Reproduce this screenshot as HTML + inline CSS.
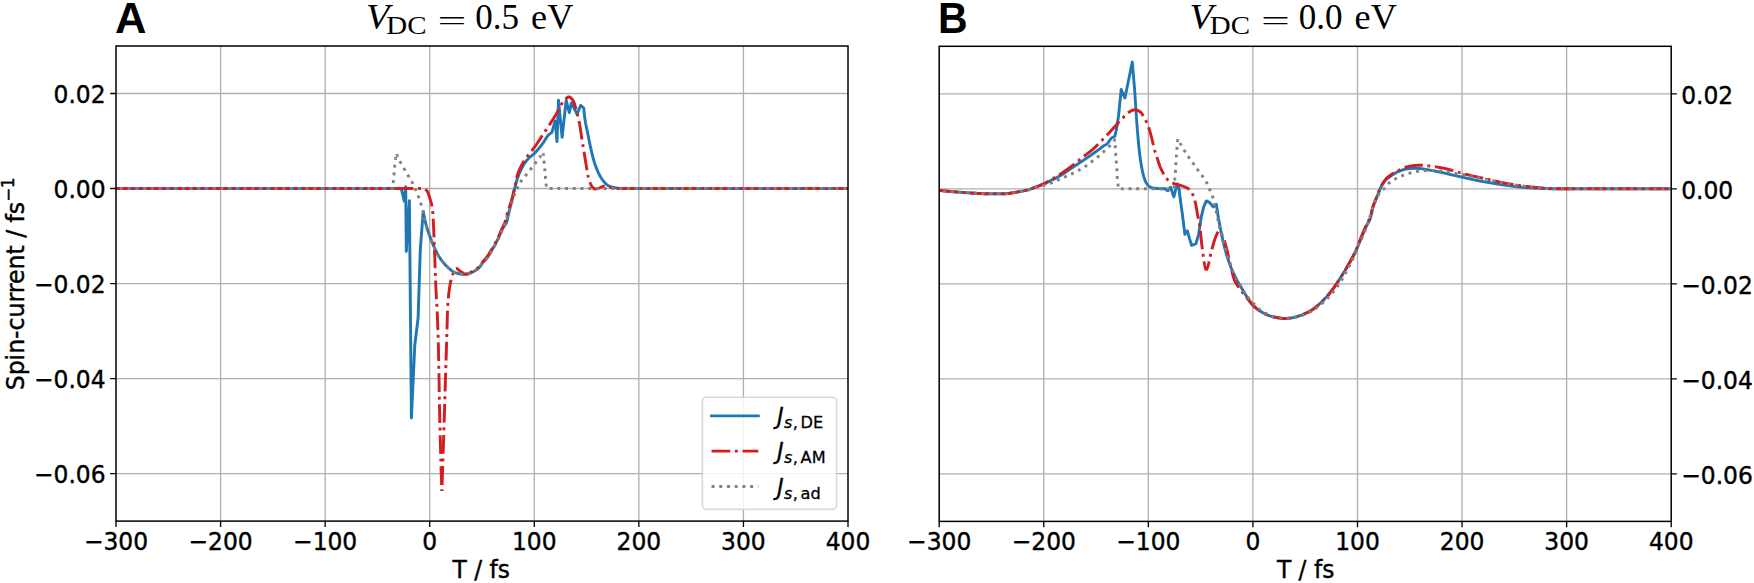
<!DOCTYPE html>
<html lang="en"><head><meta charset="utf-8"><title>Spin-current</title>
<style>html,body{margin:0;padding:0;background:#fff}svg{display:block}.t{font-family:"DejaVu Sans","Liberation Sans",sans-serif;font-size:24.43px;fill:#000}.ti{font-family:"DejaVu Sans","Liberation Sans",sans-serif;font-style:oblique;font-size:24.43px;fill:#000}.s{font-family:"DejaVu Sans","Liberation Sans",sans-serif;font-size:17.1px;fill:#000}.si{font-family:"DejaVu Sans","Liberation Sans",sans-serif;font-style:oblique;font-size:17.1px;fill:#000}.m{font-family:"Liberation Serif","DejaVu Serif",serif;fill:#000}.b{font-family:"Liberation Sans","DejaVu Sans",sans-serif;font-weight:bold;font-size:43.6px;fill:#000}</style></head><body>
<svg width="1754" height="583" viewBox="0 0 1754 583">
<rect x="0" y="0" width="1754" height="583" fill="#fff"/>
<clipPath id="clipA"><rect x="116.0" y="46.0" width="732.00" height="475.10"/></clipPath>
<path d="M220.57,46.0V521.1M325.14,46.0V521.1M429.71,46.0V521.1M534.29,46.0V521.1M638.86,46.0V521.1M743.43,46.0V521.1M116.0,93.51H848.0M116.0,188.53H848.0M116.0,283.55H848.0M116.0,378.57H848.0M116.0,473.59H848.0" stroke="#b0b0b0" stroke-width="1.33" fill="none"/>
<g clip-path="url(#clipA)" fill="none" stroke-linejoin="round">
<path d="M116.00,188.50 L401.20,188.50 L402.80,195.00 L404.30,201.30 L405.70,186.60 L406.30,251.40 L409.40,200.60 L411.40,418.00 L414.80,345.00 L418.10,318.00 L420.30,250.00 L423.20,211.60 L423.70,214.12 L424.20,216.56 L424.70,218.91 L425.20,221.15 L425.70,223.27 L426.20,225.24 L426.60,226.70 L426.70,227.05 L427.20,228.74 L427.70,230.33 L428.20,231.85 L428.70,233.30 L429.20,234.69 L429.70,236.03 L430.20,237.34 L430.70,238.62 L431.20,239.89 L431.40,240.40 L431.70,241.16 L432.20,242.40 L432.70,243.62 L433.20,244.82 L433.70,245.98 L434.20,247.12 L434.70,248.24 L435.20,249.32 L435.70,250.37 L436.20,251.40 L436.70,252.40 L437.20,253.38 L437.70,254.32 L438.20,255.23 L438.70,256.09 L439.20,256.90 L439.70,257.67 L440.20,258.41 L440.70,259.13 L441.20,259.83 L441.70,260.51 L442.20,261.16 L442.70,261.79 L443.20,262.41 L443.70,263.01 L444.20,263.59 L444.30,263.70 L444.70,264.15 L445.20,264.70 L445.70,265.23 L446.20,265.74 L446.70,266.24 L447.20,266.72 L447.70,267.19 L448.20,267.65 L448.60,268.00 L448.70,268.09 L449.20,268.53 L449.70,268.98 L450.20,269.42 L450.70,269.86 L451.20,270.29 L451.70,270.69 L452.20,271.06 L452.70,271.40 L453.20,271.70 L453.70,271.96 L453.80,272.00 L454.20,272.17 L454.70,272.38 L455.20,272.58 L455.70,272.76 L456.20,272.94 L456.70,273.11 L457.20,273.27 L457.70,273.41 L458.20,273.55 L458.70,273.67 L459.20,273.78 L459.70,273.87 L460.20,273.95 L460.60,274.00 L460.70,274.01 L461.20,274.07 L461.70,274.13 L462.20,274.18 L462.70,274.23 L463.20,274.28 L463.70,274.32 L464.20,274.35 L464.70,274.38 L465.20,274.39 L465.70,274.40 L465.80,274.40 L466.20,274.39 L466.70,274.33 L467.20,274.24 L467.70,274.12 L468.20,273.97 L468.70,273.79 L469.20,273.60 L469.70,273.38 L470.20,273.16 L470.70,272.92 L471.20,272.68 L471.70,272.43 L472.20,272.19 L472.60,272.00 L472.70,271.95 L473.20,271.71 L473.70,271.45 L474.20,271.18 L474.70,270.90 L475.20,270.60 L475.70,270.28 L476.20,269.94 L476.70,269.59 L477.20,269.21 L477.70,268.81 L478.20,268.40 L478.70,267.96 L479.20,267.49 L479.50,267.20 L479.70,266.99 L480.20,266.36 L480.70,265.62 L481.20,264.84 L481.70,264.06 L482.20,263.33 L482.30,263.20 L482.70,262.69 L483.20,262.09 L483.70,261.51 L484.20,260.95 L484.70,260.40 L485.20,259.85 L485.70,259.29 L486.20,258.72 L486.70,258.11 L487.20,257.47 L487.40,257.20 L487.70,256.78 L488.20,256.05 L488.70,255.28 L489.20,254.48 L489.70,253.66 L490.20,252.82 L490.70,251.98 L491.20,251.14 L491.70,250.30 L492.20,249.47 L492.70,248.64 L493.20,247.80 L493.70,246.96 L494.20,246.09 L494.70,245.21 L495.20,244.30 L495.70,243.36 L496.20,242.40 L496.70,241.42 L497.20,240.42 L497.70,239.39 L498.20,238.35 L498.60,237.50 L498.70,237.28 L499.20,236.15 L499.70,234.96 L500.20,233.74 L500.70,232.53 L501.20,231.36 L501.70,230.29 L502.00,229.70 L502.20,229.33 L502.70,228.46 L503.20,227.65 L503.70,226.88 L504.20,226.12 L504.60,225.50 L504.70,225.35 L505.20,224.66 L505.70,223.97 L506.20,223.11 L506.30,222.90 L506.70,221.84 L507.20,220.05 L507.70,217.92 L508.20,215.65 L508.70,213.43 L508.90,212.60 L509.20,211.39 L509.70,209.37 L510.20,207.34 L510.70,205.29 L511.20,203.24 L511.50,202.00 L511.70,201.17 L512.20,199.06 L512.70,196.93 L513.20,194.80 L513.70,192.72 L514.00,191.50 L514.20,190.69 L514.70,188.63 L515.20,186.56 L515.70,184.53 L516.20,182.59 L516.70,180.80 L517.20,179.20 L517.70,177.75 L518.20,176.36 L518.70,175.03 L519.20,173.77 L519.70,172.56 L520.20,171.42 L520.70,170.33 L521.20,169.29 L521.70,168.31 L522.20,167.38 L522.30,167.20 L522.70,166.49 L523.20,165.63 L523.70,164.81 L524.20,164.01 L524.70,163.24 L525.20,162.50 L525.70,161.79 L526.20,161.11 L526.70,160.47 L527.20,159.85 L527.70,159.26 L528.20,158.71 L528.30,158.60 L528.70,158.19 L529.20,157.71 L529.70,157.26 L530.20,156.85 L530.70,156.45 L531.20,156.06 L531.70,155.68 L532.20,155.30 L532.70,154.91 L533.20,154.50 L533.70,154.06 L534.20,153.60 L534.30,153.50 L534.70,153.10 L535.20,152.59 L535.70,152.05 L536.20,151.51 L536.70,150.95 L537.20,150.37 L537.70,149.79 L538.20,149.19 L538.70,148.58 L539.20,147.96 L539.70,147.34 L540.20,146.70 L540.70,146.06 L541.20,145.42 L541.70,144.77 L542.20,144.12 L542.70,143.46 L542.90,143.20 L543.20,142.79 L543.70,142.07 L544.20,141.31 L544.70,140.51 L545.20,139.70 L545.70,138.89 L546.20,138.08 L546.70,137.31 L547.20,136.58 L547.70,135.90 L548.20,135.30 L548.70,134.78 L548.90,134.60 L549.20,134.35 L549.70,133.95 L550.20,133.58 L550.70,133.26 L551.20,132.98 L551.70,132.74 L551.80,132.70 L555.20,121.00 L557.00,141.50 L558.50,100.30 L562.10,137.30 L566.20,100.30 L569.30,112.60 L571.40,102.90 L577.00,114.20 L580.70,105.40 L583.70,108.00 L584.20,112.76 L584.70,117.08 L585.10,120.00 L585.20,120.64 L585.70,123.59 L586.20,126.18 L586.70,128.55 L587.20,130.84 L587.70,133.21 L587.80,133.70 L588.20,135.71 L588.70,138.23 L589.20,140.74 L589.70,143.20 L590.20,145.58 L590.60,147.40 L590.70,147.85 L591.20,150.07 L591.70,152.26 L592.20,154.40 L592.70,156.45 L593.20,158.40 L593.70,160.20 L594.00,161.20 L594.20,161.84 L594.70,163.39 L595.20,164.87 L595.70,166.28 L596.20,167.62 L596.70,168.89 L597.20,170.10 L597.70,171.24 L598.10,172.10 L598.20,172.31 L598.70,173.34 L599.20,174.35 L599.70,175.31 L600.20,176.24 L600.70,177.12 L601.20,177.96 L601.70,178.75 L602.20,179.48 L602.70,180.15 L602.90,180.40 L603.20,180.77 L603.70,181.37 L604.20,181.95 L604.70,182.51 L605.20,183.04 L605.70,183.55 L606.20,184.02 L606.70,184.45 L607.20,184.85 L607.70,185.19 L608.20,185.49 L608.40,185.60 L608.70,185.75 L609.20,185.98 L609.70,186.20 L610.20,186.41 L610.70,186.60 L611.20,186.77 L611.70,186.94 L612.20,187.09 L612.70,187.22 L613.20,187.35 L613.70,187.46 L613.90,187.50 L614.20,187.56 L614.70,187.66 L615.20,187.76 L615.70,187.85 L616.20,187.94 L616.70,188.02 L617.20,188.10 L617.70,188.16 L618.20,188.22 L618.70,188.26 L619.20,188.29 L619.40,188.30 L619.70,188.31 L620.20,188.33 L620.70,188.34 L621.20,188.36 L621.70,188.38 L622.20,188.39 L622.70,188.40 L623.20,188.42 L623.70,188.43 L624.20,188.44 L624.70,188.45 L625.20,188.46 L625.70,188.47 L626.20,188.47 L626.70,188.48 L627.20,188.49 L627.70,188.49 L628.20,188.49 L628.70,188.50 L629.20,188.50 L629.70,188.50 L630.00,188.50 L630.20,188.50 L630.70,188.50 L631.20,188.50 L631.70,188.50 L632.20,188.50 L632.70,188.50 L633.20,188.50 L633.70,188.50 L634.20,188.50 L634.70,188.50 L635.20,188.50 L635.70,188.50 L636.20,188.50 L636.70,188.50 L637.20,188.50 L637.70,188.50 L638.20,188.50 L638.70,188.50 L639.20,188.50 L639.70,188.50 L640.20,188.50 L640.70,188.50 L641.20,188.50 L641.70,188.50 L642.20,188.50 L642.70,188.50 L643.20,188.50 L643.70,188.50 L644.20,188.50 L644.70,188.50 L645.20,188.50 L645.70,188.50 L646.20,188.50 L646.70,188.50 L647.20,188.50 L647.70,188.50 L648.20,188.50 L648.70,188.50 L649.20,188.50 L649.70,188.50 L650.20,188.50 L650.70,188.50 L651.20,188.50 L651.70,188.50 L652.20,188.50 L652.70,188.50 L653.20,188.50 L653.70,188.50 L654.20,188.50 L654.70,188.50 L655.20,188.50 L655.70,188.50 L656.20,188.50 L656.70,188.50 L657.20,188.50 L657.70,188.50 L658.20,188.50 L658.70,188.50 L659.20,188.50 L659.70,188.50 L660.20,188.50 L660.70,188.50 L661.20,188.50 L661.70,188.50 L662.20,188.50 L662.70,188.50 L663.20,188.50 L663.70,188.50 L664.20,188.50 L664.70,188.50 L665.20,188.50 L665.70,188.50 L666.20,188.50 L666.70,188.50 L667.20,188.50 L667.70,188.50 L668.20,188.50 L668.70,188.50 L669.20,188.50 L669.70,188.50 L670.20,188.50 L670.70,188.50 L671.20,188.50 L671.70,188.50 L672.20,188.50 L672.70,188.50 L673.20,188.50 L673.70,188.50 L674.20,188.50 L674.70,188.50 L675.20,188.50 L675.70,188.50 L676.20,188.50 L676.70,188.50 L677.20,188.50 L677.70,188.50 L678.20,188.50 L678.70,188.50 L679.20,188.50 L679.70,188.50 L680.20,188.50 L680.70,188.50 L681.20,188.50 L681.70,188.50 L682.20,188.50 L682.70,188.50 L683.20,188.50 L683.70,188.50 L684.20,188.50 L684.70,188.50 L685.20,188.50 L685.70,188.50 L686.20,188.50 L686.70,188.50 L687.20,188.50 L687.70,188.50 L688.20,188.50 L688.70,188.50 L689.20,188.50 L689.70,188.50 L690.20,188.50 L690.70,188.50 L691.20,188.50 L691.70,188.50 L692.20,188.50 L692.70,188.50 L693.20,188.50 L693.70,188.50 L694.20,188.50 L694.70,188.50 L695.20,188.50 L695.70,188.50 L696.20,188.50 L696.70,188.50 L697.20,188.50 L697.70,188.50 L698.20,188.50 L698.70,188.50 L699.20,188.50 L699.70,188.50 L700.20,188.50 L700.70,188.50 L701.20,188.50 L701.70,188.50 L702.20,188.50 L702.70,188.50 L703.20,188.50 L703.70,188.50 L704.20,188.50 L704.70,188.50 L705.20,188.50 L705.70,188.50 L706.20,188.50 L706.70,188.50 L707.20,188.50 L707.70,188.50 L708.20,188.50 L708.70,188.50 L709.20,188.50 L709.70,188.50 L710.20,188.50 L710.70,188.50 L711.20,188.50 L711.70,188.50 L712.20,188.50 L712.70,188.50 L713.20,188.50 L713.70,188.50 L714.20,188.50 L714.70,188.50 L715.20,188.50 L715.70,188.50 L716.20,188.50 L716.70,188.50 L717.20,188.50 L717.70,188.50 L718.20,188.50 L718.70,188.50 L719.20,188.50 L719.70,188.50 L720.20,188.50 L720.70,188.50 L721.20,188.50 L721.70,188.50 L722.20,188.50 L722.70,188.50 L723.20,188.50 L723.70,188.50 L724.20,188.50 L724.70,188.50 L725.20,188.50 L725.70,188.50 L726.20,188.50 L726.70,188.50 L727.20,188.50 L727.70,188.50 L728.20,188.50 L728.70,188.50 L729.20,188.50 L729.70,188.50 L730.20,188.50 L730.70,188.50 L731.20,188.50 L731.70,188.50 L732.20,188.50 L732.70,188.50 L733.20,188.50 L733.70,188.50 L734.20,188.50 L734.70,188.50 L735.20,188.50 L735.70,188.50 L736.20,188.50 L736.70,188.50 L737.20,188.50 L737.70,188.50 L738.20,188.50 L738.70,188.50 L739.20,188.50 L739.70,188.50 L740.20,188.50 L740.70,188.50 L741.20,188.50 L741.70,188.50 L742.20,188.50 L742.70,188.50 L743.20,188.50 L743.70,188.50 L744.20,188.50 L744.70,188.50 L745.20,188.50 L745.70,188.50 L746.20,188.50 L746.70,188.50 L747.20,188.50 L747.70,188.50 L748.20,188.50 L748.70,188.50 L749.20,188.50 L749.70,188.50 L750.20,188.50 L750.70,188.50 L751.20,188.50 L751.70,188.50 L752.20,188.50 L752.70,188.50 L753.20,188.50 L753.70,188.50 L754.20,188.50 L754.70,188.50 L755.20,188.50 L755.70,188.50 L756.20,188.50 L756.70,188.50 L757.20,188.50 L757.70,188.50 L758.20,188.50 L758.70,188.50 L759.20,188.50 L759.70,188.50 L760.20,188.50 L760.70,188.50 L761.20,188.50 L761.70,188.50 L762.20,188.50 L762.70,188.50 L763.20,188.50 L763.70,188.50 L764.20,188.50 L764.70,188.50 L765.20,188.50 L765.70,188.50 L766.20,188.50 L766.70,188.50 L767.20,188.50 L767.70,188.50 L768.20,188.50 L768.70,188.50 L769.20,188.50 L769.70,188.50 L770.20,188.50 L770.70,188.50 L771.20,188.50 L771.70,188.50 L772.20,188.50 L772.70,188.50 L773.20,188.50 L773.70,188.50 L774.20,188.50 L774.70,188.50 L775.20,188.50 L775.70,188.50 L776.20,188.50 L776.70,188.50 L777.20,188.50 L777.70,188.50 L778.20,188.50 L778.70,188.50 L779.20,188.50 L779.70,188.50 L780.20,188.50 L780.70,188.50 L781.20,188.50 L781.70,188.50 L782.20,188.50 L782.70,188.50 L783.20,188.50 L783.70,188.50 L784.20,188.50 L784.70,188.50 L785.20,188.50 L785.70,188.50 L786.20,188.50 L786.70,188.50 L787.20,188.50 L787.70,188.50 L788.20,188.50 L788.70,188.50 L789.20,188.50 L789.70,188.50 L790.20,188.50 L790.70,188.50 L791.20,188.50 L791.70,188.50 L792.20,188.50 L792.70,188.50 L793.20,188.50 L793.70,188.50 L794.20,188.50 L794.70,188.50 L795.20,188.50 L795.70,188.50 L796.20,188.50 L796.70,188.50 L797.20,188.50 L797.70,188.50 L798.20,188.50 L798.70,188.50 L799.20,188.50 L799.70,188.50 L800.20,188.50 L800.70,188.50 L801.20,188.50 L801.70,188.50 L802.20,188.50 L802.70,188.50 L803.20,188.50 L803.70,188.50 L804.20,188.50 L804.70,188.50 L805.20,188.50 L805.70,188.50 L806.20,188.50 L806.70,188.50 L807.20,188.50 L807.70,188.50 L808.20,188.50 L808.70,188.50 L809.20,188.50 L809.70,188.50 L810.20,188.50 L810.70,188.50 L811.20,188.50 L811.70,188.50 L812.20,188.50 L812.70,188.50 L813.20,188.50 L813.70,188.50 L814.20,188.50 L814.70,188.50 L815.20,188.50 L815.70,188.50 L816.20,188.50 L816.70,188.50 L817.20,188.50 L817.70,188.50 L818.20,188.50 L818.70,188.50 L819.20,188.50 L819.70,188.50 L820.20,188.50 L820.70,188.50 L821.20,188.50 L821.70,188.50 L822.20,188.50 L822.70,188.50 L823.20,188.50 L823.70,188.50 L824.20,188.50 L824.70,188.50 L825.20,188.50 L825.70,188.50 L826.20,188.50 L826.70,188.50 L827.20,188.50 L827.70,188.50 L828.20,188.50 L828.70,188.50 L829.20,188.50 L829.70,188.50 L830.20,188.50 L830.70,188.50 L831.20,188.50 L831.70,188.50 L832.20,188.50 L832.70,188.50 L833.20,188.50 L833.70,188.50 L834.20,188.50 L834.70,188.50 L835.20,188.50 L835.70,188.50 L836.20,188.50 L836.70,188.50 L837.20,188.50 L837.70,188.50 L838.20,188.50 L838.70,188.50 L839.20,188.50 L839.70,188.50 L840.20,188.50 L840.70,188.50 L841.20,188.50 L841.70,188.50 L842.20,188.50 L842.70,188.50 L843.20,188.50 L843.70,188.50 L844.20,188.50 L844.70,188.50 L845.20,188.50 L845.70,188.50 L846.20,188.50 L846.70,188.50 L847.20,188.50 L847.70,188.50 L848.00,188.50" stroke="#1f77b4" stroke-width="2.917" stroke-linecap="square"/>
<path d="M116.00,188.50 L423.90,188.50 L424.40,188.59 L424.90,188.85 L425.40,189.24 L425.90,189.74 L426.40,190.32 L426.90,190.96 L427.30,191.50 L427.40,191.64 L427.90,192.56 L428.40,193.77 L428.90,195.19 L429.40,196.75 L429.90,198.36 L430.10,199.00 L430.40,199.96 L430.90,201.62 L431.40,203.54 L431.90,205.90 L432.40,209.06 L432.80,212.70 L432.90,213.88 L433.40,222.66 L433.90,234.60 L434.40,247.50 L434.50,250.00 L434.90,260.99 L435.40,275.65 L435.70,283.40 L435.90,287.80 L436.40,297.26 L436.90,306.08 L437.40,316.24 L437.50,318.60 L437.90,329.34 L438.30,342.60 L438.40,346.55 L438.90,371.87 L439.40,400.42 L439.80,420.00 L439.90,424.11 L440.40,443.86 L440.90,461.91 L441.40,477.79 L441.90,491.00" stroke="#d51c1e" stroke-width="2.917" stroke-dasharray="18.690 4.675 2.920 4.675" stroke-dashoffset="0.000"/>
<path d="M441.90,491.00 L441.90,491.00 L442.40,475.83 L442.90,460.51 L443.40,445.05 L443.90,429.44 L444.20,420.00 L444.40,413.66 L444.90,397.61 L445.40,381.37 L445.90,365.11 L446.40,348.98 L446.60,342.60 L446.90,332.16 L447.40,314.42 L447.80,304.90 L447.90,303.49 L448.40,297.32 L448.90,292.47 L449.40,288.63 L449.90,285.54 L450.30,283.40 L450.40,282.90 L450.90,280.56 L451.40,278.52 L451.90,276.75 L452.40,275.25 L452.90,274.00 L453.40,272.85 L453.90,271.72 L454.40,270.67 L454.90,269.76 L455.40,269.05 L455.90,268.62 L456.30,268.50 L456.40,268.50 L456.90,268.61 L457.40,268.85 L457.90,269.19 L458.40,269.60 L458.90,270.04 L459.40,270.49 L459.90,270.91 L460.40,271.28 L460.60,271.40 L460.90,271.58 L461.40,271.90 L461.90,272.23 L462.40,272.56 L462.90,272.89 L463.40,273.19 L463.90,273.47 L464.40,273.70 L464.90,273.87 L465.40,273.97 L465.80,274.00 L465.90,274.00 L466.40,273.97 L466.90,273.89 L467.40,273.78 L467.90,273.63 L468.40,273.46 L468.90,273.26 L469.40,273.04 L469.90,272.80 L470.40,272.55 L470.90,272.29 L471.40,272.02 L471.90,271.76 L472.40,271.50 L472.60,271.40 L472.90,271.25 L473.40,270.98 L473.90,270.69 L474.40,270.39 L474.90,270.07 L475.40,269.74 L475.90,269.39 L476.40,269.02 L476.90,268.63 L477.40,268.22 L477.90,267.79 L478.40,267.35 L478.90,266.88 L479.40,266.40 L479.50,266.30 L479.90,265.86 L480.40,265.22 L480.90,264.51 L481.40,263.77 L481.90,263.04 L482.30,262.50 L482.40,262.37 L482.90,261.74 L483.40,261.13 L483.90,260.53 L484.40,259.94 L484.90,259.36 L485.40,258.76 L485.90,258.16 L486.40,257.53 L486.90,256.88 L487.40,256.20 L487.90,255.48 L488.40,254.73 L488.90,253.94 L489.40,253.13 L489.90,252.31 L490.40,251.48 L490.90,250.64 L491.40,249.80 L491.70,249.30 L491.90,248.97 L492.40,248.14 L492.90,247.31 L493.40,246.47 L493.90,245.61 L494.40,244.74 L494.90,243.85 L495.20,243.30 L495.40,242.93 L495.90,241.98 L496.40,241.01 L496.90,240.02 L497.40,239.01 L497.90,237.98 L498.40,236.93 L498.60,236.50 L498.90,235.85 L499.40,234.73 L499.90,233.58 L500.40,232.41 L500.90,231.23 L501.40,230.07 L501.90,228.92 L502.00,228.70 L502.40,227.84 L502.90,226.81 L503.40,225.79 L503.90,224.71 L504.40,223.52 L504.60,223.00 L504.90,222.14 L505.40,220.51 L505.90,218.70 L506.40,216.79 L506.90,214.86 L507.40,212.97 L507.90,211.23 L508.00,210.90 L508.40,209.66 L508.90,208.20 L509.40,206.81 L509.90,205.44 L510.40,204.04 L510.90,202.56 L511.40,200.94 L511.50,200.60 L511.90,199.13 L512.40,197.13 L512.90,195.00 L513.40,192.83 L513.90,190.71 L514.00,190.30 L514.40,188.70 L514.90,186.74 L515.40,184.71 L515.70,183.40 L515.90,182.43 L516.40,179.69 L516.90,177.05 L517.20,175.80 L517.40,175.11 L517.90,173.53 L518.40,172.13 L518.90,170.87 L519.40,169.72 L519.90,168.65 L520.40,167.61 L520.60,167.20 L520.90,166.59 L521.40,165.62 L521.90,164.69 L522.40,163.80 L522.90,162.95 L523.40,162.13 L523.90,161.33 L524.40,160.55 L524.90,159.79 L525.40,159.04 L525.70,158.60 L525.90,158.31 L526.40,157.59 L526.90,156.90 L527.40,156.23 L527.90,155.57 L528.40,154.93 L528.90,154.30 L529.40,153.69 L529.90,153.07 L530.40,152.46 L530.90,151.86 L531.40,151.24 L531.90,150.63 L532.40,150.00 L532.90,149.37 L533.40,148.72 L533.90,148.05 L534.30,147.50 L534.40,147.36 L534.90,146.66 L535.40,145.94 L535.90,145.22 L536.40,144.48 L536.90,143.74 L537.40,142.99 L537.90,142.24 L538.40,141.48 L538.90,140.71 L539.40,139.95 L539.90,139.18 L540.40,138.41 L540.90,137.64 L541.40,136.87 L541.90,136.11 L542.40,135.35 L542.90,134.60 L543.40,133.85 L543.90,133.11 L544.40,132.36 L544.90,131.62 L545.40,130.88 L545.90,130.14 L546.40,129.41 L546.90,128.67 L547.40,127.92 L547.90,127.18 L548.40,126.43 L548.90,125.68 L549.40,124.93 L549.90,124.17 L550.40,123.41 L550.90,122.63 L551.40,121.86 L551.50,121.70 L551.90,121.07 L552.40,120.29 L552.90,119.50 L553.40,118.70 L553.90,117.90 L554.40,117.10 L554.90,116.29 L555.40,115.47 L555.90,114.65 L556.40,113.82 L556.90,112.99 L557.40,112.14 L557.90,111.29 L558.30,110.60 L558.40,110.43 L558.90,109.50 L559.40,108.52 L559.90,107.50 L560.40,106.46 L560.90,105.43 L561.40,104.43 L561.90,103.48 L562.40,102.62 L562.90,101.85 L563.40,101.21 L563.50,101.10 L563.90,100.66 L564.40,100.12 L564.90,99.58 L565.40,99.06 L565.90,98.57 L566.40,98.13 L566.90,97.73 L567.40,97.40 L567.90,97.15 L568.40,96.98 L568.90,96.90 L569.00,96.90 L569.40,96.95 L569.90,97.14 L570.40,97.46 L570.90,97.89 L571.40,98.41 L571.90,99.00 L572.40,99.63 L572.90,100.30 L573.40,101.15 L573.90,102.30 L574.40,103.69 L574.90,105.24 L575.40,106.89 L575.90,108.57 L576.00,108.90 L576.40,110.32 L576.90,112.29 L577.40,114.37 L577.60,115.20 L577.90,116.43 L578.40,118.48 L578.90,120.62 L579.40,122.98 L579.60,124.00 L579.90,125.69 L580.40,128.90 L580.90,132.37 L581.40,135.83 L581.70,137.80 L581.90,139.06 L582.40,142.17 L582.90,145.23 L583.40,148.25 L583.90,151.24 L584.40,154.23 L584.90,157.21 L585.10,158.40 L585.40,160.23 L585.90,163.42 L586.40,166.64 L586.90,169.77 L587.40,172.67 L587.90,175.22 L588.10,176.10 L588.40,177.32 L588.90,179.17 L589.40,180.79 L589.90,182.20" stroke="#d51c1e" stroke-width="2.917" stroke-dasharray="18.781 4.698 2.934 4.698" stroke-dashoffset="24.947"/>
<path d="M589.90,182.20 L589.90,182.20 L590.40,183.48 L590.90,184.67 L591.40,185.69 L591.90,186.48 L592.00,186.60 L592.40,187.06 L592.90,187.62 L593.40,188.12 L593.90,188.53 L594.40,188.83 L594.90,188.99 L595.10,189.00 L595.40,188.99 L595.90,188.94 L596.40,188.85 L596.90,188.74 L597.40,188.61 L597.90,188.48 L598.20,188.40 L598.40,188.34 L598.90,188.17 L599.40,187.97 L599.90,187.75 L600.40,187.52 L600.90,187.28 L601.40,187.06 L601.80,186.90 L601.90,186.86 L602.40,186.64 L602.90,186.40 L603.40,186.18 L603.90,186.01 L604.40,185.91 L604.60,185.90 L604.90,185.90 L605.40,185.93 L605.90,185.98 L606.40,186.04 L606.90,186.11 L607.40,186.18 L607.50,186.20 L607.90,186.28 L608.40,186.44 L608.90,186.63 L609.40,186.84 L609.90,187.06 L610.40,187.26 L610.80,187.40 L610.90,187.43 L611.40,187.60 L611.90,187.77 L612.40,187.94 L612.90,188.08 L613.40,188.21 L613.90,188.29 L614.00,188.30 L614.40,188.34 L614.90,188.39 L615.40,188.43 L615.90,188.46 L616.40,188.48 L616.85,188.50" stroke="#d51c1e" stroke-width="2.917" stroke-dasharray="19.078 4.772 2.981 4.772" stroke-dashoffset="0.000"/>
<path d="M616.85,188.50 L616.90,188.50 L617.20,188.50 L617.40,188.50 L617.90,188.50 L618.40,188.50 L618.90,188.50 L619.40,188.50 L619.90,188.50 L620.40,188.50 L620.90,188.50 L621.40,188.50 L621.90,188.50 L622.40,188.50 L622.90,188.50 L623.40,188.50 L623.90,188.50 L624.40,188.50 L624.90,188.50 L625.40,188.50 L625.90,188.50 L626.40,188.50 L626.90,188.50 L627.40,188.50 L627.90,188.50 L628.40,188.50 L628.90,188.50 L629.40,188.50 L629.90,188.50 L630.40,188.50 L630.90,188.50 L631.40,188.50 L631.90,188.50 L632.40,188.50 L632.90,188.50 L633.40,188.50 L633.90,188.50 L634.40,188.50 L634.90,188.50 L635.40,188.50 L635.90,188.50 L636.40,188.50 L636.90,188.50 L637.40,188.50 L637.90,188.50 L638.40,188.50 L638.90,188.50 L639.40,188.50 L639.90,188.50 L640.40,188.50 L640.90,188.50 L641.40,188.50 L641.90,188.50 L642.40,188.50 L642.90,188.50 L643.40,188.50 L643.90,188.50 L644.40,188.50 L644.90,188.50 L645.40,188.50 L645.90,188.50 L646.40,188.50 L646.90,188.50 L647.40,188.50 L647.90,188.50 L648.40,188.50 L648.90,188.50 L649.40,188.50 L649.90,188.50 L650.40,188.50 L650.90,188.50 L651.40,188.50 L651.90,188.50 L652.40,188.50 L652.90,188.50 L653.40,188.50 L653.90,188.50 L654.40,188.50 L654.90,188.50 L655.40,188.50 L655.90,188.50 L656.40,188.50 L656.90,188.50 L657.40,188.50 L657.90,188.50 L658.40,188.50 L658.90,188.50 L659.40,188.50 L659.90,188.50 L660.40,188.50 L660.90,188.50 L661.40,188.50 L661.90,188.50 L662.40,188.50 L662.90,188.50 L663.40,188.50 L663.90,188.50 L664.40,188.50 L664.90,188.50 L665.40,188.50 L665.90,188.50 L666.40,188.50 L666.90,188.50 L667.40,188.50 L667.90,188.50 L668.40,188.50 L668.90,188.50 L669.40,188.50 L669.90,188.50 L670.40,188.50 L670.90,188.50 L671.40,188.50 L671.90,188.50 L672.40,188.50 L672.90,188.50 L673.40,188.50 L673.90,188.50 L674.40,188.50 L674.90,188.50 L675.40,188.50 L675.90,188.50 L676.40,188.50 L676.90,188.50 L677.40,188.50 L677.90,188.50 L678.40,188.50 L678.90,188.50 L679.40,188.50 L679.90,188.50 L680.40,188.50 L680.90,188.50 L681.40,188.50 L681.90,188.50 L682.40,188.50 L682.90,188.50 L683.40,188.50 L683.90,188.50 L684.40,188.50 L684.90,188.50 L685.40,188.50 L685.90,188.50 L686.40,188.50 L686.90,188.50 L687.40,188.50 L687.90,188.50 L688.40,188.50 L688.90,188.50 L689.40,188.50 L689.90,188.50 L690.40,188.50 L690.90,188.50 L691.40,188.50 L691.90,188.50 L692.40,188.50 L692.90,188.50 L693.40,188.50 L693.90,188.50 L694.40,188.50 L694.90,188.50 L695.40,188.50 L695.90,188.50 L696.40,188.50 L696.90,188.50 L697.40,188.50 L697.90,188.50 L698.40,188.50 L698.90,188.50 L699.40,188.50 L699.90,188.50 L700.40,188.50 L700.90,188.50 L701.40,188.50 L701.90,188.50 L702.40,188.50 L702.90,188.50 L703.40,188.50 L703.90,188.50 L704.40,188.50 L704.90,188.50 L705.40,188.50 L705.90,188.50 L706.40,188.50 L706.90,188.50 L707.40,188.50 L707.90,188.50 L708.40,188.50 L708.90,188.50 L709.40,188.50 L709.90,188.50 L710.40,188.50 L710.90,188.50 L711.40,188.50 L711.90,188.50 L712.40,188.50 L712.90,188.50 L713.40,188.50 L713.90,188.50 L714.40,188.50 L714.90,188.50 L715.40,188.50 L715.90,188.50 L716.40,188.50 L716.90,188.50 L717.40,188.50 L717.90,188.50 L718.40,188.50 L718.90,188.50 L719.40,188.50 L719.90,188.50 L720.40,188.50 L720.90,188.50 L721.40,188.50 L721.90,188.50 L722.40,188.50 L722.90,188.50 L723.40,188.50 L723.90,188.50 L724.40,188.50 L724.90,188.50 L725.40,188.50 L725.90,188.50 L726.40,188.50 L726.90,188.50 L727.40,188.50 L727.90,188.50 L728.40,188.50 L728.90,188.50 L729.40,188.50 L729.90,188.50 L730.40,188.50 L730.90,188.50 L731.40,188.50 L731.90,188.50 L732.40,188.50 L732.90,188.50 L733.40,188.50 L733.90,188.50 L734.40,188.50 L734.90,188.50 L735.40,188.50 L735.90,188.50 L736.40,188.50 L736.90,188.50 L737.40,188.50 L737.90,188.50 L738.40,188.50 L738.90,188.50 L739.40,188.50 L739.90,188.50 L740.40,188.50 L740.90,188.50 L741.40,188.50 L741.90,188.50 L742.40,188.50 L742.90,188.50 L743.40,188.50 L743.90,188.50 L744.40,188.50 L744.90,188.50 L745.40,188.50 L745.90,188.50 L746.40,188.50 L746.90,188.50 L747.40,188.50 L747.90,188.50 L748.40,188.50 L748.90,188.50 L749.40,188.50 L749.90,188.50 L750.40,188.50 L750.90,188.50 L751.40,188.50 L751.90,188.50 L752.40,188.50 L752.90,188.50 L753.40,188.50 L753.90,188.50 L754.40,188.50 L754.90,188.50 L755.40,188.50 L755.90,188.50 L756.40,188.50 L756.90,188.50 L757.40,188.50 L757.90,188.50 L758.40,188.50 L758.90,188.50 L759.40,188.50 L759.90,188.50 L760.40,188.50 L760.90,188.50 L761.40,188.50 L761.90,188.50 L762.40,188.50 L762.90,188.50 L763.40,188.50 L763.90,188.50 L764.40,188.50 L764.90,188.50 L765.40,188.50 L765.90,188.50 L766.40,188.50 L766.90,188.50 L767.40,188.50 L767.90,188.50 L768.40,188.50 L768.90,188.50 L769.40,188.50 L769.90,188.50 L770.40,188.50 L770.90,188.50 L771.40,188.50 L771.90,188.50 L772.40,188.50 L772.90,188.50 L773.40,188.50 L773.90,188.50 L774.40,188.50 L774.90,188.50 L775.40,188.50 L775.90,188.50 L776.40,188.50 L776.90,188.50 L777.40,188.50 L777.90,188.50 L778.40,188.50 L778.90,188.50 L779.40,188.50 L779.90,188.50 L780.40,188.50 L780.90,188.50 L781.40,188.50 L781.90,188.50 L782.40,188.50 L782.90,188.50 L783.40,188.50 L783.90,188.50 L784.40,188.50 L784.90,188.50 L785.40,188.50 L785.90,188.50 L786.40,188.50 L786.90,188.50 L787.40,188.50 L787.90,188.50 L788.40,188.50 L788.90,188.50 L789.40,188.50 L789.90,188.50 L790.40,188.50 L790.90,188.50 L791.40,188.50 L791.90,188.50 L792.40,188.50 L792.90,188.50 L793.40,188.50 L793.90,188.50 L794.40,188.50 L794.90,188.50 L795.40,188.50 L795.90,188.50 L796.40,188.50 L796.90,188.50 L797.40,188.50 L797.90,188.50 L798.40,188.50 L798.90,188.50 L799.40,188.50 L799.90,188.50 L800.40,188.50 L800.90,188.50 L801.40,188.50 L801.90,188.50 L802.40,188.50 L802.90,188.50 L803.40,188.50 L803.90,188.50 L804.40,188.50 L804.90,188.50 L805.40,188.50 L805.90,188.50 L806.40,188.50 L806.90,188.50 L807.40,188.50 L807.90,188.50 L808.40,188.50 L808.90,188.50 L809.40,188.50 L809.90,188.50 L810.40,188.50 L810.90,188.50 L811.40,188.50 L811.90,188.50 L812.40,188.50 L812.90,188.50 L813.40,188.50 L813.90,188.50 L814.40,188.50 L814.90,188.50 L815.40,188.50 L815.90,188.50 L816.40,188.50 L816.90,188.50 L817.40,188.50 L817.90,188.50 L818.40,188.50 L818.90,188.50 L819.40,188.50 L819.90,188.50 L820.40,188.50 L820.90,188.50 L821.40,188.50 L821.90,188.50 L822.40,188.50 L822.90,188.50 L823.40,188.50 L823.90,188.50 L824.40,188.50 L824.90,188.50 L825.40,188.50 L825.90,188.50 L826.40,188.50 L826.90,188.50 L827.40,188.50 L827.90,188.50 L828.40,188.50 L828.90,188.50 L829.40,188.50 L829.90,188.50 L830.40,188.50 L830.90,188.50 L831.40,188.50 L831.90,188.50 L832.40,188.50 L832.90,188.50 L833.40,188.50 L833.90,188.50 L834.40,188.50 L834.90,188.50 L835.40,188.50 L835.90,188.50 L836.40,188.50 L836.90,188.50 L837.40,188.50 L837.90,188.50 L838.40,188.50 L838.90,188.50 L839.40,188.50 L839.90,188.50 L840.40,188.50 L840.90,188.50 L841.40,188.50 L841.90,188.50 L842.40,188.50 L842.90,188.50 L843.40,188.50 L843.90,188.50 L844.40,188.50 L844.90,188.50 L845.40,188.50 L845.90,188.50 L846.40,188.50 L846.90,188.50 L847.40,188.50 L847.90,188.50 L848.00,188.50" stroke="#d51c1e" stroke-width="2.917" stroke-dasharray="18.670 4.670 2.917 4.670" stroke-dashoffset="0.000"/>
<path d="M116.00,188.50 L392.80,188.50 L393.30,181.60 L394.10,174.00 L394.70,166.30 L395.50,158.50" stroke="#808080" stroke-width="2.917" stroke-dasharray="2.918 4.814" stroke-dashoffset="3.801"/>
<path d="M395.50,158.50 L395.50,158.50 L396.20,153.00 L397.20,155.50" stroke="#808080" stroke-width="2.917" stroke-dasharray="3.108 5.129" stroke-dashoffset="1.545"/>
<path d="M397.20,155.50 L397.20,155.50 L397.70,156.62 L398.20,157.71 L398.70,158.78 L399.20,159.82 L399.70,160.84 L400.20,161.83 L400.60,162.60 L400.70,162.79 L401.20,163.71 L401.70,164.61 L402.20,165.47 L402.70,166.33 L403.20,167.17 L403.70,168.01 L404.20,168.86 L404.40,169.20 L404.70,169.71 L405.20,170.57 L405.70,171.42 L406.20,172.27 L406.70,173.12 L407.20,173.96 L407.70,174.81 L408.20,175.66 L408.40,176.00 L408.70,176.51 L409.20,177.33 L409.70,178.14 L410.20,178.96 L410.70,179.78 L411.20,180.62 L411.70,181.50 L412.20,182.42 L412.40,182.80 L412.70,183.39 L413.20,184.43 L413.70,185.52 L414.20,186.65 L414.70,187.79 L415.20,188.94 L415.40,189.40 L415.70,190.08 L416.20,191.21 L416.70,192.35 L417.20,193.52 L417.70,194.72 L418.20,195.98 L418.40,196.50 L418.70,197.31 L419.20,198.72 L419.70,200.20 L420.20,201.73 L420.70,203.28 L420.90,203.90 L421.20,204.79 L421.70,206.19 L422.20,207.64 L422.70,209.32 L423.20,211.40 L423.70,214.93 L424.20,218.50 L424.70,220.68 L425.20,222.47 L425.70,224.02 L426.20,225.49 L426.60,226.70 L426.70,227.01 L427.20,228.56 L427.70,230.09 L428.20,231.58 L428.70,233.05 L429.20,234.48 L429.70,235.88 L430.20,237.25 L430.70,238.59 L431.20,239.89 L431.40,240.40 L431.70,241.16 L432.20,242.40 L432.70,243.62 L433.20,244.82 L433.70,245.98 L434.20,247.12 L434.70,248.24 L435.20,249.32 L435.70,250.37 L436.20,251.40 L436.70,252.40 L437.20,253.38 L437.70,254.32 L438.20,255.23 L438.70,256.09 L439.20,256.90 L439.70,257.67 L440.20,258.41 L440.70,259.13 L441.20,259.83 L441.70,260.51 L442.20,261.16 L442.70,261.79 L443.20,262.41 L443.70,263.01 L444.20,263.59 L444.30,263.70 L444.70,264.15 L445.20,264.70 L445.70,265.23 L446.20,265.74 L446.70,266.24 L447.20,266.72 L447.70,267.19 L448.20,267.65 L448.60,268.00 L448.70,268.09 L449.20,268.53 L449.70,268.98 L450.20,269.42 L450.70,269.86 L451.20,270.29 L451.70,270.69 L452.20,271.06 L452.70,271.40 L453.20,271.70 L453.70,271.96 L453.80,272.00 L454.20,272.17 L454.70,272.38 L455.20,272.58 L455.70,272.76 L456.20,272.94 L456.70,273.11 L457.20,273.27 L457.70,273.41 L458.20,273.55 L458.70,273.67 L459.20,273.78 L459.70,273.87 L460.20,273.95 L460.60,274.00 L460.70,274.01 L461.20,274.07 L461.70,274.13 L462.20,274.18 L462.70,274.23 L463.20,274.28 L463.70,274.32 L464.20,274.35 L464.70,274.38 L465.20,274.39 L465.70,274.40 L465.80,274.40 L466.20,274.39 L466.70,274.33 L467.20,274.24 L467.70,274.12 L468.20,273.97 L468.70,273.79 L469.20,273.60 L469.70,273.38 L470.20,273.16 L470.70,272.92 L471.20,272.68 L471.70,272.43 L472.20,272.19 L472.60,272.00 L472.70,271.95 L473.20,271.71 L473.70,271.45 L474.20,271.17 L474.70,270.88 L475.20,270.57 L475.70,270.25 L476.20,269.90 L476.70,269.55 L477.20,269.17 L477.70,268.77 L478.20,268.36 L478.70,267.93 L479.20,267.48 L479.50,267.20 L479.70,267.00 L480.20,266.43 L480.70,265.77 L481.20,265.08 L481.70,264.38 L482.20,263.72 L482.30,263.60 L482.70,263.12 L483.20,262.55 L483.70,262.00 L484.20,261.47 L484.70,260.93 L485.20,260.40 L485.70,259.85 L486.20,259.28 L486.70,258.69 L487.20,258.06 L487.40,257.80 L487.70,257.39 L488.20,256.68 L488.70,255.92 L489.20,255.14 L489.70,254.33 L490.20,253.50 L490.70,252.67 L491.20,251.83 L491.70,251.00 L492.20,250.17 L492.70,249.34 L493.20,248.51 L493.70,247.65 L494.20,246.79 L494.70,245.91 L495.20,245.00 L495.70,244.07 L496.20,243.13 L496.70,242.16 L497.20,241.17 L497.70,240.16 L498.20,239.14 L498.60,238.30 L498.70,238.09 L499.20,236.99 L499.70,235.85 L500.20,234.69 L500.70,233.52 L501.20,232.37 L501.70,231.25 L502.00,230.60 L502.20,230.19 L502.70,229.23 L503.20,228.31 L503.70,227.37 L504.20,226.34 L504.60,225.40 L504.70,225.14 L505.20,223.67 L505.70,221.96 L506.20,220.10 L506.70,218.18 L507.20,216.28 L507.70,214.49 L508.00,213.50 L508.20,212.88 L508.70,211.38 L509.20,209.94 L509.70,208.54 L510.20,207.16 L510.70,205.78 L511.20,204.37 L511.50,203.50 L511.70,202.91 L512.20,201.38 L512.70,199.82 L513.20,198.29 L513.70,196.82 L514.00,196.00 L514.20,195.47 L514.70,194.18 L515.20,192.92 L515.70,191.71 L516.20,190.54 L516.70,189.42 L517.20,188.33 L517.50,187.70 L517.70,187.29 L518.20,186.26 L518.70,185.27 L519.20,184.31 L519.70,183.39 L520.20,182.52 L520.70,181.71 L520.90,181.40 L521.20,180.96 L521.70,180.26 L522.20,179.60 L522.70,178.97 L523.20,178.37 L523.70,177.78 L524.20,177.19 L524.70,176.61 L525.20,176.01 L525.70,175.40 L526.20,174.77 L526.70,174.15 L527.20,173.52 L527.70,172.89 L528.20,172.26 L528.70,171.63 L529.20,171.00 L529.70,170.37 L530.20,169.74 L530.70,169.10 L531.20,168.46 L531.70,167.83 L532.20,167.19 L532.70,166.55 L533.20,165.91 L533.70,165.27 L534.20,164.62 L534.70,163.98 L535.20,163.32 L535.60,162.80 L535.70,162.67 L536.20,162.01 L536.70,161.35 L537.20,160.68 L537.70,160.02 L538.20,159.35 L538.70,158.67 L539.20,158.00 L539.70,157.32 L540.20,156.64 L540.30,156.50" stroke="#808080" stroke-width="2.917" stroke-dasharray="2.930 4.835" stroke-dashoffset="1.457"/>
<path d="M540.30,156.50 L540.30,156.50 L542.80,152.20 L543.40,154.40" stroke="#808080" stroke-width="2.917" stroke-dasharray="2.737 4.517" stroke-dashoffset="1.361"/>
<path d="M543.40,154.40 L543.40,154.40 L544.10,161.90 L544.80,169.80 L545.40,177.60 L546.20,185.10 L547.00,188.50 L551.00,188.50 L595.95,188.50" stroke="#808080" stroke-width="2.917" stroke-dasharray="2.906 4.795" stroke-dashoffset="1.445"/>
<path d="M595.95,188.50 L848.00,188.50" stroke="#808080" stroke-width="2.917" stroke-dasharray="2.917 4.813" stroke-dashoffset="0.000"/>
</g>
<path d="M116.00,521.1v5.8M220.57,521.1v5.8M325.14,521.1v5.8M429.71,521.1v5.8M534.29,521.1v5.8M638.86,521.1v5.8M743.43,521.1v5.8M848.00,521.1v5.8M116.0,93.51h-5.8M116.0,188.53h-5.8M116.0,283.55h-5.8M116.0,378.57h-5.8M116.0,473.59h-5.8" stroke="#000" stroke-width="1.33" fill="none"/>
<rect x="116.0" y="46.0" width="732.00" height="475.10" fill="none" stroke="#000" stroke-width="1.5"/>
<text class="t" transform="translate(116.00,549.90) scale(0.957,1)" text-anchor="middle" stroke="#000" stroke-width="0.4">−300</text>
<text class="t" transform="translate(220.57,549.90) scale(0.957,1)" text-anchor="middle" stroke="#000" stroke-width="0.4">−200</text>
<text class="t" transform="translate(325.14,549.90) scale(0.957,1)" text-anchor="middle" stroke="#000" stroke-width="0.4">−100</text>
<text class="t" transform="translate(429.71,549.90) scale(0.957,1)" text-anchor="middle" stroke="#000" stroke-width="0.4">0</text>
<text class="t" transform="translate(534.29,549.90) scale(0.957,1)" text-anchor="middle" stroke="#000" stroke-width="0.4">100</text>
<text class="t" transform="translate(638.86,549.90) scale(0.957,1)" text-anchor="middle" stroke="#000" stroke-width="0.4">200</text>
<text class="t" transform="translate(743.43,549.90) scale(0.957,1)" text-anchor="middle" stroke="#000" stroke-width="0.4">300</text>
<text class="t" transform="translate(848.00,549.90) scale(0.957,1)" text-anchor="middle" stroke="#000" stroke-width="0.4">400</text>
<text class="t" transform="translate(105.60,103.01) scale(0.957,1)" text-anchor="end" stroke="#000" stroke-width="0.4">0.02</text>
<text class="t" transform="translate(105.60,198.03) scale(0.957,1)" text-anchor="end" stroke="#000" stroke-width="0.4">0.00</text>
<text class="t" transform="translate(105.60,293.05) scale(0.957,1)" text-anchor="end" stroke="#000" stroke-width="0.4">−0.02</text>
<text class="t" transform="translate(105.60,388.07) scale(0.957,1)" text-anchor="end" stroke="#000" stroke-width="0.4">−0.04</text>
<text class="t" transform="translate(105.60,483.09) scale(0.957,1)" text-anchor="end" stroke="#000" stroke-width="0.4">−0.06</text>
<text class="t" transform="translate(481.20,577.60) scale(0.957,1)" text-anchor="middle" stroke="#000" stroke-width="0.4">T / fs</text>
<clipPath id="clipB"><rect x="939.2" y="46.3" width="732.00" height="475.10"/></clipPath>
<path d="M1043.77,46.3V521.4M1148.34,46.3V521.4M1252.91,46.3V521.4M1357.49,46.3V521.4M1462.06,46.3V521.4M1566.63,46.3V521.4M939.2,93.81H1671.2M939.2,188.83H1671.2M939.2,283.85H1671.2M939.2,378.87H1671.2M939.2,473.89H1671.2" stroke="#b0b0b0" stroke-width="1.33" fill="none"/>
<g clip-path="url(#clipB)" fill="none" stroke-linejoin="round">
<path d="M939.20,190.40 L939.70,190.45 L940.20,190.50 L940.70,190.55 L941.20,190.60 L941.70,190.65 L942.20,190.70 L942.70,190.75 L943.20,190.80 L943.70,190.85 L944.20,190.90 L944.70,190.95 L945.20,191.00 L945.70,191.04 L946.20,191.09 L946.70,191.14 L947.20,191.18 L947.70,191.23 L948.20,191.28 L948.70,191.32 L949.20,191.37 L949.70,191.41 L950.20,191.46 L950.70,191.50 L951.20,191.54 L951.70,191.59 L952.20,191.63 L952.70,191.67 L953.20,191.72 L953.70,191.76 L954.20,191.80 L954.70,191.84 L955.20,191.88 L955.70,191.92 L956.20,191.96 L956.70,192.00 L957.20,192.03 L957.70,192.07 L958.20,192.11 L958.70,192.15 L959.20,192.18 L959.70,192.22 L960.20,192.25 L960.70,192.29 L961.20,192.32 L961.70,192.35 L962.20,192.39 L962.40,192.40 L962.70,192.42 L963.20,192.45 L963.70,192.49 L964.20,192.52 L964.70,192.55 L965.20,192.59 L965.70,192.62 L966.20,192.65 L966.70,192.69 L967.20,192.72 L967.70,192.76 L968.20,192.79 L968.70,192.83 L969.20,192.86 L969.70,192.90 L970.20,192.93 L970.70,192.97 L971.20,193.00 L971.70,193.03 L972.20,193.07 L972.70,193.10 L973.20,193.14 L973.70,193.17 L974.20,193.20 L974.70,193.23 L975.20,193.26 L975.70,193.29 L976.20,193.32 L976.70,193.35 L977.20,193.38 L977.70,193.41 L978.20,193.44 L978.70,193.47 L979.20,193.49 L979.70,193.52 L980.20,193.54 L980.70,193.57 L981.20,193.59 L981.70,193.61 L982.20,193.63 L982.70,193.65 L983.20,193.67 L983.70,193.69 L984.20,193.70 L984.70,193.72 L985.20,193.73 L985.70,193.75 L986.20,193.76 L986.70,193.77 L987.20,193.78 L987.70,193.78 L988.20,193.79 L988.70,193.80 L989.20,193.80 L989.70,193.80 L989.90,193.80 L990.20,193.80 L990.70,193.80 L991.20,193.80 L991.70,193.80 L992.20,193.80 L992.70,193.80 L993.20,193.80 L993.70,193.80 L994.20,193.80 L994.70,193.80 L995.20,193.80 L995.70,193.80 L996.20,193.80 L996.70,193.80 L997.20,193.80 L997.70,193.80 L998.20,193.80 L998.70,193.80 L999.20,193.80 L999.70,193.80 L1000.20,193.80 L1000.70,193.80 L1001.20,193.80 L1001.70,193.80 L1002.20,193.80 L1002.70,193.80 L1003.20,193.80 L1003.60,193.80 L1003.70,193.80 L1004.20,193.79 L1004.70,193.78 L1005.20,193.76 L1005.70,193.73 L1006.20,193.70 L1006.70,193.65 L1007.20,193.61 L1007.70,193.55 L1008.20,193.49 L1008.70,193.43 L1009.20,193.36 L1009.70,193.29 L1010.20,193.22 L1010.70,193.14 L1011.20,193.06 L1011.70,192.97 L1012.20,192.89 L1012.70,192.80 L1013.20,192.71 L1013.70,192.63 L1014.20,192.54 L1014.70,192.45 L1015.20,192.36 L1015.70,192.27 L1016.20,192.18 L1016.70,192.10 L1017.20,192.02 L1017.30,192.00 L1017.70,191.93 L1018.20,191.85 L1018.70,191.77 L1019.20,191.68 L1019.70,191.59 L1020.20,191.50 L1020.70,191.40 L1021.20,191.31 L1021.70,191.21 L1022.20,191.11 L1022.70,191.01 L1023.20,190.91 L1023.70,190.80 L1024.20,190.69 L1024.70,190.58 L1025.20,190.47 L1025.70,190.35 L1026.20,190.23 L1026.70,190.11 L1027.20,189.98 L1027.70,189.86 L1028.20,189.73 L1028.30,189.70 L1028.70,189.59 L1029.20,189.45 L1029.70,189.30 L1030.20,189.14 L1030.70,188.98 L1031.20,188.82 L1031.70,188.64 L1032.20,188.47 L1032.70,188.29 L1033.20,188.10 L1033.70,187.91 L1034.20,187.72 L1034.70,187.53 L1035.20,187.34 L1035.70,187.15 L1036.20,186.95 L1036.70,186.76 L1037.20,186.57 L1037.70,186.38 L1037.90,186.30 L1038.20,186.19 L1038.70,186.00 L1039.20,185.80 L1039.70,185.61 L1040.20,185.42 L1040.70,185.22 L1041.20,185.02 L1041.70,184.82 L1042.20,184.61 L1042.70,184.41 L1043.20,184.20 L1043.70,183.98 L1044.20,183.77 L1044.70,183.54 L1044.80,183.50 L1045.20,183.32 L1045.70,183.08 L1046.20,182.84 L1046.70,182.60 L1047.20,182.35 L1047.70,182.10 L1048.20,181.84 L1048.70,181.58 L1049.20,181.32 L1049.70,181.07 L1050.20,180.81 L1050.70,180.55 L1051.20,180.30 L1051.60,180.10 L1051.70,180.05 L1052.20,179.81 L1052.70,179.56 L1053.20,179.33 L1053.70,179.09 L1054.20,178.85 L1054.70,178.62 L1055.20,178.38 L1055.70,178.14 L1056.20,177.89 L1056.70,177.65 L1057.20,177.39 L1057.70,177.13 L1058.20,176.86 L1058.50,176.70 L1058.70,176.59 L1059.20,176.30 L1059.70,176.01 L1060.20,175.72 L1060.70,175.41 L1061.20,175.11 L1061.70,174.79 L1062.20,174.47 L1062.70,174.15 L1063.20,173.82 L1063.70,173.49 L1064.20,173.16 L1064.70,172.82 L1065.20,172.48 L1065.70,172.14 L1066.20,171.80 L1066.70,171.46 L1067.20,171.11 L1067.70,170.77 L1068.20,170.42 L1068.70,170.07 L1069.20,169.73 L1069.70,169.39 L1070.20,169.04 L1070.70,168.70 L1071.20,168.37 L1071.70,168.03 L1072.20,167.70 L1072.70,167.37 L1073.20,167.04 L1073.70,166.71 L1074.20,166.38 L1074.70,166.05 L1075.20,165.72 L1075.70,165.39 L1076.20,165.07 L1076.70,164.74 L1077.20,164.41 L1077.70,164.08 L1078.20,163.75 L1078.70,163.42 L1079.20,163.09 L1079.70,162.76 L1080.20,162.43 L1080.70,162.09 L1081.20,161.76 L1081.70,161.43 L1082.20,161.10 L1082.70,160.76 L1083.20,160.43 L1083.70,160.09 L1084.20,159.75 L1084.70,159.42 L1085.20,159.08 L1085.70,158.74 L1085.90,158.60 L1086.20,158.40 L1086.70,158.05 L1087.20,157.71 L1087.70,157.37 L1088.20,157.03 L1088.70,156.69 L1089.20,156.34 L1089.70,156.00 L1090.20,155.65 L1090.70,155.31 L1091.20,154.96 L1091.70,154.61 L1092.20,154.26 L1092.70,153.91 L1093.20,153.56 L1093.70,153.21 L1094.20,152.85 L1094.70,152.49 L1095.20,152.13 L1095.70,151.77 L1096.20,151.41 L1096.70,151.05 L1096.90,150.90 L1097.20,150.68 L1097.70,150.31 L1098.20,149.94 L1098.70,149.56 L1099.20,149.19 L1099.70,148.81 L1100.20,148.42 L1100.70,148.04 L1101.20,147.65 L1101.70,147.27 L1102.20,146.88 L1102.70,146.49 L1103.20,146.09 L1103.70,145.70 L1107.20,144.00 L1111.40,138.00 L1114.90,136.30 L1116.60,128.60 L1118.60,115.20 L1121.20,89.50 L1124.90,98.00 L1132.30,62.00 L1134.60,89.50 L1136.60,120.00 L1137.10,126.49 L1137.60,132.61 L1138.00,137.20 L1138.10,138.31 L1138.60,143.77 L1139.10,148.92 L1139.60,153.48 L1139.70,154.30 L1140.10,157.38 L1140.60,160.86 L1141.10,164.00 L1141.50,166.30 L1141.60,166.85 L1142.10,169.53 L1142.60,172.02 L1143.10,174.22 L1143.50,175.70 L1143.60,176.03 L1144.10,177.64 L1144.60,179.12 L1145.10,180.47 L1145.60,181.66 L1146.10,182.68 L1146.60,183.50 L1147.10,184.20 L1147.60,184.84 L1148.10,185.41 L1148.60,185.92 L1149.10,186.35 L1149.60,186.69 L1150.00,186.90 L1150.10,186.94 L1150.60,187.15 L1151.10,187.35 L1151.60,187.52 L1152.10,187.68 L1152.60,187.82 L1153.10,187.95 L1153.60,188.06 L1154.10,188.15 L1154.60,188.23 L1155.10,188.29 L1155.20,188.30 L1155.60,188.34 L1156.10,188.39 L1156.60,188.43 L1157.10,188.48 L1157.60,188.52 L1158.10,188.56 L1158.60,188.60 L1159.10,188.63 L1159.60,188.66 L1160.10,188.69 L1160.60,188.72 L1161.10,188.74 L1161.60,188.76 L1162.10,188.78 L1162.60,188.79 L1163.10,188.80 L1163.60,188.80 L1163.80,188.80 L1164.50,188.50 L1167.80,190.80 L1170.60,187.20 L1173.80,196.90 L1177.20,184.00 L1178.80,187.50 L1180.40,200.00 L1182.30,213.70 L1184.90,234.30 L1187.40,230.90 L1189.50,238.60 L1191.70,245.50 L1196.00,243.70 L1198.60,234.30 L1201.20,217.20 L1203.70,206.90 L1206.30,200.90 L1209.70,202.60 L1213.20,206.90 L1216.30,204.30 L1218.30,217.20 L1220.90,230.90 L1221.40,233.39 L1221.90,235.81 L1222.40,238.16 L1222.90,240.43 L1223.40,242.62 L1223.90,244.70 L1224.30,246.30 L1224.40,246.69 L1224.90,248.60 L1225.40,250.44 L1225.90,252.23 L1226.40,253.95 L1226.90,255.62 L1227.40,257.24 L1227.90,258.80 L1228.40,260.31 L1228.60,260.90 L1228.90,261.77 L1229.40,263.19 L1229.90,264.57 L1230.40,265.90 L1230.90,267.20 L1231.40,268.46 L1231.90,269.67 L1232.40,270.86 L1232.90,272.00 L1233.40,273.11 L1233.90,274.18 L1234.40,275.22 L1234.90,276.23 L1235.40,277.21 L1235.90,278.17 L1236.40,279.12 L1236.90,280.05 L1237.20,280.60 L1237.40,280.96 L1237.90,281.86 L1238.40,282.73 L1238.90,283.58 L1239.40,284.42 L1239.90,285.25 L1240.40,286.07 L1240.90,286.89 L1241.40,287.71 L1241.90,288.54 L1242.30,289.20 L1242.40,289.37 L1242.90,290.21 L1243.40,291.06 L1243.90,291.92 L1244.40,292.77 L1244.90,293.62 L1245.40,294.46 L1245.90,295.29 L1246.40,296.10 L1246.90,296.89 L1247.40,297.65 L1247.50,297.80 L1247.90,298.40 L1248.40,299.14 L1248.90,299.88 L1249.40,300.62 L1249.90,301.34 L1250.40,302.05 L1250.90,302.73 L1251.40,303.39 L1251.90,304.02 L1252.40,304.62 L1252.90,305.18 L1253.30,305.60 L1253.40,305.70 L1253.90,306.19 L1254.40,306.66 L1254.90,307.12 L1255.40,307.56 L1255.90,307.98 L1256.40,308.39 L1256.90,308.78 L1257.40,309.16 L1257.90,309.53 L1258.40,309.89 L1258.90,310.23 L1259.40,310.57 L1259.90,310.90 L1260.20,311.10 L1260.40,311.23 L1260.90,311.55 L1261.40,311.86 L1261.90,312.17 L1262.40,312.47 L1262.90,312.76 L1263.40,313.05 L1263.90,313.32 L1264.40,313.59 L1264.90,313.85 L1265.40,314.09 L1265.90,314.33 L1266.40,314.55 L1266.90,314.76 L1267.00,314.80 L1267.40,314.96 L1267.90,315.15 L1268.40,315.34 L1268.90,315.52 L1269.40,315.70 L1269.90,315.87 L1270.40,316.04 L1270.90,316.19 L1271.40,316.35 L1271.90,316.49 L1272.40,316.63 L1272.90,316.76 L1273.40,316.88 L1273.90,317.00 L1274.40,317.11 L1274.90,317.22 L1275.40,317.32 L1275.90,317.42 L1276.40,317.52 L1276.90,317.61 L1277.40,317.70 L1277.90,317.78 L1278.40,317.86 L1278.90,317.94 L1279.40,318.01 L1279.90,318.08 L1280.40,318.15 L1280.80,318.20 L1280.90,318.21 L1281.40,318.28 L1281.90,318.34 L1282.40,318.41 L1282.90,318.47 L1283.40,318.52 L1283.90,318.56 L1284.40,318.59 L1284.90,318.60 L1285.40,318.59 L1285.90,318.58 L1286.40,318.55 L1286.90,318.52 L1287.40,318.47 L1287.90,318.42 L1288.40,318.36 L1288.90,318.30 L1289.40,318.23 L1289.90,318.16 L1290.40,318.09 L1290.90,318.02 L1291.40,317.94 L1291.70,317.90 L1291.90,317.87 L1292.40,317.78 L1292.90,317.69 L1293.40,317.58 L1293.90,317.47 L1294.40,317.34 L1294.90,317.21 L1295.40,317.07 L1295.90,316.93 L1296.40,316.78 L1296.90,316.63 L1297.40,316.48 L1297.90,316.32 L1298.40,316.16 L1298.60,316.10 L1298.90,316.00 L1299.40,315.84 L1299.90,315.67 L1300.40,315.49 L1300.90,315.31 L1301.40,315.12 L1301.90,314.93 L1302.40,314.73 L1302.90,314.53 L1303.40,314.32 L1303.90,314.11 L1304.40,313.89 L1304.90,313.67 L1305.40,313.45 L1305.50,313.40 L1305.90,313.22 L1306.40,312.98 L1306.90,312.74 L1307.40,312.49 L1307.90,312.24 L1308.40,311.98 L1308.90,311.71 L1309.40,311.44 L1309.90,311.16 L1310.40,310.87 L1310.90,310.57 L1311.40,310.27 L1311.90,309.96 L1312.30,309.70 L1312.40,309.64 L1312.90,309.30 L1313.40,308.95 L1313.90,308.59 L1314.40,308.22 L1314.90,307.83 L1315.40,307.44 L1315.90,307.04 L1316.40,306.62 L1316.90,306.20 L1317.40,305.78 L1317.90,305.34 L1318.40,304.91 L1318.90,304.47 L1319.20,304.20 L1319.40,304.02 L1319.90,303.57 L1320.40,303.11 L1320.90,302.64 L1321.40,302.16 L1321.90,301.67 L1322.40,301.18 L1322.90,300.68 L1323.40,300.17 L1323.90,299.65 L1324.40,299.13 L1324.90,298.60 L1325.40,298.06 L1325.90,297.52 L1326.10,297.30 L1326.40,296.97 L1326.90,296.42 L1327.40,295.85 L1327.90,295.28 L1328.40,294.71 L1328.90,294.12 L1329.40,293.52 L1329.90,292.92 L1330.40,292.31 L1330.90,291.69 L1331.40,291.05 L1331.90,290.41 L1332.40,289.76 L1332.90,289.10 L1333.40,288.42 L1333.90,287.73 L1334.40,287.02 L1334.90,286.30 L1335.40,285.56 L1335.90,284.82 L1336.40,284.06 L1336.90,283.30 L1337.40,282.53 L1337.90,281.76 L1338.40,280.98 L1338.90,280.20 L1339.40,279.42 L1339.80,278.80 L1339.90,278.64 L1340.40,277.87 L1340.90,277.08 L1341.40,276.29 L1341.90,275.50 L1342.40,274.71 L1342.90,273.90 L1343.40,273.10 L1343.90,272.29 L1344.40,271.47 L1344.90,270.65 L1345.40,269.82 L1345.90,268.98 L1346.40,268.14 L1346.60,267.80 L1346.90,267.29 L1347.40,266.44 L1347.90,265.58 L1348.40,264.72 L1348.90,263.86 L1349.40,262.99 L1349.90,262.11 L1350.40,261.22 L1350.90,260.33 L1351.40,259.42 L1351.90,258.51 L1352.40,257.58 L1352.90,256.64 L1353.40,255.69 L1353.50,255.50 L1353.90,254.73 L1354.40,253.74 L1354.90,252.74 L1355.40,251.71 L1355.90,250.65 L1356.20,250.00 L1356.40,249.56 L1356.90,248.43 L1357.40,247.27 L1357.90,246.07 L1358.40,244.86 L1358.90,243.63 L1359.40,242.39 L1359.90,241.15 L1360.40,239.92 L1360.90,238.70 L1361.40,237.51 L1361.70,236.80 L1361.90,236.33 L1362.40,235.16 L1362.90,233.99 L1363.40,232.82 L1363.90,231.65 L1364.40,230.49 L1364.90,229.35 L1365.40,228.23 L1365.90,227.12 L1366.40,226.05 L1366.90,225.00 L1367.40,224.04 L1367.90,223.17 L1368.40,222.35 L1368.90,221.50 L1369.40,220.57 L1369.90,219.50 L1370.30,218.50 L1370.40,218.22 L1370.90,216.41 L1371.40,214.16 L1371.90,211.74 L1372.40,209.43 L1372.90,207.50 L1373.40,205.94 L1373.90,204.52 L1374.40,203.20 L1374.90,201.95 L1375.40,200.73 L1375.90,199.51 L1376.30,198.50 L1376.40,198.24 L1376.90,196.96 L1377.40,195.68 L1377.90,194.40 L1378.40,193.15 L1378.90,191.91 L1379.40,190.71 L1379.70,190.00 L1379.90,189.53 L1380.40,188.35 L1380.90,187.21 L1381.40,186.19 L1381.50,186.00 L1381.90,185.28 L1382.40,184.42 L1382.90,183.61 L1383.40,182.84 L1383.90,182.13 L1384.40,181.48 L1384.90,180.90 L1385.40,180.37 L1385.90,179.87 L1386.40,179.40 L1386.90,178.96 L1387.40,178.54 L1387.90,178.15 L1388.40,177.76 L1388.90,177.39 L1389.40,177.03 L1389.90,176.67 L1390.00,176.60 L1390.40,176.31 L1390.90,175.96 L1391.40,175.61 L1391.90,175.26 L1392.40,174.91 L1392.90,174.57 L1393.40,174.24 L1393.90,173.91 L1394.40,173.59 L1394.90,173.28 L1395.40,172.99 L1395.90,172.70 L1396.40,172.43 L1396.90,172.17 L1397.40,171.92 L1397.90,171.69 L1398.40,171.48 L1398.60,171.40 L1398.90,171.28 L1399.40,171.09 L1399.90,170.90 L1400.40,170.71 L1400.90,170.53 L1401.40,170.35 L1401.90,170.17 L1402.40,170.01 L1402.90,169.85 L1403.40,169.70 L1403.90,169.56 L1404.40,169.42 L1404.90,169.30 L1405.40,169.19 L1405.90,169.09 L1406.40,169.01 L1406.90,168.94 L1407.20,168.90 L1407.40,168.88 L1407.90,168.82 L1408.40,168.77 L1408.90,168.72 L1409.40,168.67 L1409.90,168.62 L1410.40,168.57 L1410.90,168.53 L1411.40,168.49 L1411.90,168.45 L1412.40,168.42 L1412.90,168.39 L1413.40,168.36 L1413.90,168.34 L1414.40,168.32 L1414.90,168.31 L1415.40,168.30 L1415.80,168.30 L1415.90,168.30 L1416.40,168.31 L1416.90,168.33 L1417.40,168.35 L1417.90,168.39 L1418.40,168.43 L1418.90,168.47 L1419.40,168.52 L1419.90,168.56 L1420.30,168.60 L1420.40,168.61 L1420.90,168.66 L1421.40,168.71 L1421.90,168.78 L1422.40,168.84 L1422.90,168.91 L1423.40,168.99 L1423.90,169.07 L1424.40,169.15 L1424.90,169.24 L1425.40,169.33 L1425.90,169.42 L1426.40,169.51 L1426.90,169.61 L1427.40,169.70 L1427.90,169.80 L1428.40,169.89 L1428.90,169.99 L1429.40,170.08 L1429.90,170.17 L1430.40,170.26 L1430.60,170.30 L1430.90,170.35 L1431.40,170.44 L1431.90,170.53 L1432.40,170.63 L1432.90,170.72 L1433.40,170.81 L1433.90,170.90 L1434.40,171.00 L1434.90,171.09 L1435.40,171.19 L1435.90,171.29 L1436.40,171.38 L1436.90,171.48 L1437.40,171.58 L1437.90,171.68 L1438.40,171.78 L1438.90,171.88 L1439.40,171.99 L1439.90,172.09 L1440.40,172.19 L1440.90,172.30 L1441.40,172.41 L1441.90,172.52 L1442.40,172.63 L1442.90,172.74 L1443.40,172.85 L1443.90,172.97 L1444.40,173.09 L1444.90,173.20 L1445.40,173.32 L1445.90,173.44 L1446.40,173.56 L1446.90,173.68 L1447.40,173.80 L1447.90,173.92 L1448.40,174.04 L1448.90,174.16 L1449.40,174.28 L1449.90,174.40 L1450.40,174.51 L1450.90,174.63 L1451.20,174.70 L1451.40,174.75 L1451.90,174.86 L1452.40,174.97 L1452.90,175.09 L1453.40,175.20 L1453.90,175.31 L1454.40,175.43 L1454.90,175.54 L1455.40,175.65 L1455.90,175.77 L1456.40,175.88 L1456.90,175.99 L1457.40,176.10 L1457.90,176.22 L1458.40,176.33 L1458.90,176.44 L1459.40,176.55 L1459.90,176.66 L1460.40,176.78 L1460.90,176.89 L1461.40,177.00 L1461.90,177.11 L1462.40,177.23 L1462.90,177.34 L1463.40,177.45 L1463.90,177.56 L1464.40,177.68 L1464.90,177.79 L1465.40,177.90 L1465.90,178.02 L1466.40,178.13 L1466.90,178.24 L1467.40,178.36 L1467.90,178.47 L1468.40,178.58 L1468.90,178.69 L1469.40,178.80 L1469.90,178.91 L1470.40,179.02 L1470.90,179.13 L1471.40,179.24 L1471.70,179.30 L1471.90,179.34 L1472.40,179.45 L1472.90,179.56 L1473.40,179.66 L1473.90,179.77 L1474.40,179.88 L1474.90,179.98 L1475.40,180.09 L1475.90,180.19 L1476.40,180.30 L1476.90,180.40 L1477.40,180.50 L1477.90,180.61 L1478.40,180.71 L1478.90,180.81 L1479.40,180.91 L1479.90,181.00 L1480.40,181.10 L1480.90,181.20 L1481.40,181.29 L1481.90,181.38 L1482.00,181.40 L1482.40,181.47 L1482.90,181.56 L1483.40,181.65 L1483.90,181.74 L1484.40,181.82 L1484.90,181.90 L1485.40,181.99 L1485.90,182.07 L1486.40,182.15 L1486.90,182.23 L1487.40,182.31 L1487.90,182.39 L1488.40,182.47 L1488.90,182.55 L1489.40,182.63 L1489.90,182.71 L1490.40,182.79 L1490.90,182.87 L1491.40,182.95 L1491.90,183.03 L1492.30,183.10 L1492.40,183.12 L1492.90,183.20 L1493.40,183.28 L1493.90,183.37 L1494.40,183.45 L1494.90,183.54 L1495.40,183.62 L1495.90,183.71 L1496.40,183.79 L1496.90,183.88 L1497.40,183.96 L1497.90,184.05 L1498.40,184.13 L1498.90,184.21 L1499.40,184.30 L1499.90,184.38 L1500.40,184.46 L1500.90,184.54 L1501.40,184.62 L1501.90,184.69 L1502.40,184.77 L1502.60,184.80 L1502.90,184.84 L1503.40,184.92 L1503.90,184.99 L1504.40,185.06 L1504.90,185.14 L1505.40,185.21 L1505.90,185.28 L1506.40,185.35 L1506.90,185.41 L1507.40,185.48 L1507.90,185.55 L1508.40,185.62 L1508.90,185.68 L1509.40,185.75 L1509.90,185.82 L1510.40,185.88 L1510.90,185.95 L1511.40,186.01 L1511.90,186.07 L1512.40,186.14 L1512.90,186.20 L1513.40,186.26 L1513.90,186.33 L1514.40,186.39 L1514.90,186.45 L1515.40,186.52 L1515.90,186.58 L1516.40,186.65 L1516.90,186.71 L1517.40,186.77 L1517.90,186.83 L1518.40,186.89 L1518.90,186.95 L1519.40,187.01 L1519.90,187.07 L1520.40,187.12 L1520.90,187.18 L1521.40,187.23 L1521.90,187.28 L1522.40,187.33 L1522.90,187.37 L1523.20,187.40 L1523.40,187.42 L1523.90,187.46 L1524.40,187.50 L1524.90,187.54 L1525.40,187.58 L1525.90,187.62 L1526.40,187.66 L1526.90,187.69 L1527.40,187.73 L1527.90,187.77 L1528.40,187.80 L1528.90,187.83 L1529.40,187.87 L1529.90,187.90 L1530.40,187.93 L1530.90,187.96 L1531.40,187.99 L1531.90,188.02 L1532.40,188.04 L1532.90,188.07 L1533.40,188.10 L1533.50,188.10 L1533.90,188.12 L1534.40,188.14 L1534.90,188.17 L1535.40,188.19 L1535.90,188.21 L1536.40,188.23 L1536.90,188.25 L1537.40,188.27 L1537.90,188.29 L1538.40,188.31 L1538.90,188.33 L1539.40,188.35 L1539.90,188.37 L1540.40,188.39 L1540.90,188.40 L1541.40,188.42 L1541.90,188.44 L1542.40,188.46 L1542.90,188.47 L1543.40,188.49 L1543.70,188.50 L1543.90,188.51 L1544.40,188.52 L1544.90,188.54 L1545.40,188.56 L1545.90,188.58 L1546.40,188.60 L1546.90,188.62 L1547.40,188.64 L1547.90,188.66 L1548.40,188.68 L1548.90,188.69 L1549.40,188.71 L1549.90,188.73 L1550.40,188.74 L1550.90,188.76 L1551.40,188.77 L1551.90,188.78 L1552.40,188.79 L1552.90,188.79 L1553.40,188.80 L1553.90,188.80 L1554.00,188.80 L1554.40,188.80 L1554.90,188.80 L1555.40,188.80 L1555.90,188.80 L1556.40,188.80 L1556.90,188.80 L1557.40,188.80 L1557.90,188.80 L1558.40,188.80 L1558.90,188.80 L1559.40,188.80 L1559.90,188.80 L1560.40,188.80 L1560.90,188.80 L1561.40,188.80 L1561.90,188.80 L1562.40,188.80 L1562.90,188.80 L1563.40,188.80 L1563.90,188.80 L1564.40,188.80 L1564.90,188.80 L1565.40,188.80 L1565.90,188.80 L1566.40,188.80 L1566.90,188.80 L1567.40,188.80 L1567.90,188.80 L1568.40,188.80 L1568.90,188.80 L1569.40,188.80 L1569.90,188.80 L1570.40,188.80 L1570.90,188.80 L1571.40,188.80 L1571.90,188.80 L1572.40,188.80 L1572.90,188.80 L1573.40,188.80 L1573.90,188.80 L1574.40,188.80 L1574.90,188.80 L1575.40,188.80 L1575.90,188.80 L1576.40,188.80 L1576.90,188.80 L1577.40,188.80 L1577.90,188.80 L1578.40,188.80 L1578.90,188.80 L1579.40,188.80 L1579.90,188.80 L1580.40,188.80 L1580.90,188.80 L1581.40,188.80 L1581.90,188.80 L1582.40,188.80 L1582.90,188.80 L1583.40,188.80 L1583.90,188.80 L1584.40,188.80 L1584.90,188.80 L1585.40,188.80 L1585.90,188.80 L1586.40,188.80 L1586.90,188.80 L1587.40,188.80 L1587.90,188.80 L1588.40,188.80 L1588.90,188.80 L1589.40,188.80 L1589.90,188.80 L1590.40,188.80 L1590.90,188.80 L1591.40,188.80 L1591.90,188.80 L1592.40,188.80 L1592.90,188.80 L1593.40,188.80 L1593.90,188.80 L1594.40,188.80 L1594.90,188.80 L1595.40,188.80 L1595.90,188.80 L1596.40,188.80 L1596.90,188.80 L1597.40,188.80 L1597.90,188.80 L1598.40,188.80 L1598.90,188.80 L1599.40,188.80 L1599.90,188.80 L1600.40,188.80 L1600.90,188.80 L1601.40,188.80 L1601.90,188.80 L1602.40,188.80 L1602.90,188.80 L1603.40,188.80 L1603.90,188.80 L1604.40,188.80 L1604.90,188.80 L1605.40,188.80 L1605.90,188.80 L1606.40,188.80 L1606.90,188.80 L1607.40,188.80 L1607.90,188.80 L1608.40,188.80 L1608.90,188.80 L1609.40,188.80 L1609.90,188.80 L1610.40,188.80 L1610.90,188.80 L1611.40,188.80 L1611.90,188.80 L1612.40,188.80 L1612.90,188.80 L1613.40,188.80 L1613.90,188.80 L1614.40,188.80 L1614.90,188.80 L1615.40,188.80 L1615.90,188.80 L1616.40,188.80 L1616.90,188.80 L1617.40,188.80 L1617.90,188.80 L1618.40,188.80 L1618.90,188.80 L1619.40,188.80 L1619.90,188.80 L1620.40,188.80 L1620.90,188.80 L1621.40,188.80 L1621.90,188.80 L1622.40,188.80 L1622.90,188.80 L1623.40,188.80 L1623.90,188.80 L1624.40,188.80 L1624.90,188.80 L1625.40,188.80 L1625.90,188.80 L1626.40,188.80 L1626.90,188.80 L1627.40,188.80 L1627.90,188.80 L1628.40,188.80 L1628.90,188.80 L1629.40,188.80 L1629.90,188.80 L1630.40,188.80 L1630.90,188.80 L1631.40,188.80 L1631.90,188.80 L1632.40,188.80 L1632.90,188.80 L1633.40,188.80 L1633.90,188.80 L1634.40,188.80 L1634.90,188.80 L1635.40,188.80 L1635.90,188.80 L1636.40,188.80 L1636.90,188.80 L1637.40,188.80 L1637.90,188.80 L1638.40,188.80 L1638.90,188.80 L1639.40,188.80 L1639.90,188.80 L1640.40,188.80 L1640.90,188.80 L1641.40,188.80 L1641.90,188.80 L1642.40,188.80 L1642.90,188.80 L1643.40,188.80 L1643.90,188.80 L1644.40,188.80 L1644.90,188.80 L1645.40,188.80 L1645.90,188.80 L1646.40,188.80 L1646.90,188.80 L1647.40,188.80 L1647.90,188.80 L1648.40,188.80 L1648.90,188.80 L1649.40,188.80 L1649.90,188.80 L1650.40,188.80 L1650.90,188.80 L1651.40,188.80 L1651.90,188.80 L1652.40,188.80 L1652.90,188.80 L1653.40,188.80 L1653.90,188.80 L1654.40,188.80 L1654.90,188.80 L1655.40,188.80 L1655.90,188.80 L1656.40,188.80 L1656.90,188.80 L1657.40,188.80 L1657.90,188.80 L1658.40,188.80 L1658.90,188.80 L1659.40,188.80 L1659.90,188.80 L1660.40,188.80 L1660.90,188.80 L1661.40,188.80 L1661.90,188.80 L1662.40,188.80 L1662.90,188.80 L1663.40,188.80 L1663.90,188.80 L1664.40,188.80 L1664.90,188.80 L1665.40,188.80 L1665.90,188.80 L1666.40,188.80 L1666.90,188.80 L1667.40,188.80 L1667.90,188.80 L1668.40,188.80 L1668.90,188.80 L1669.40,188.80 L1669.90,188.80 L1670.40,188.80 L1670.90,188.80 L1671.10,188.80" stroke="#1f77b4" stroke-width="2.917" stroke-linecap="square"/>
<path d="M939.20,190.40 L939.70,190.45 L940.20,190.50 L940.70,190.55 L941.20,190.60 L941.70,190.65 L942.20,190.70 L942.70,190.75 L943.20,190.80 L943.70,190.85 L944.20,190.90 L944.70,190.95 L945.20,191.00 L945.70,191.04 L946.20,191.09 L946.70,191.14 L947.20,191.18 L947.70,191.23 L948.20,191.28 L948.70,191.32 L949.20,191.37 L949.70,191.41 L950.20,191.46 L950.70,191.50 L951.20,191.54 L951.70,191.59 L952.20,191.63 L952.70,191.67 L953.20,191.72 L953.70,191.76 L954.20,191.80 L954.70,191.84 L955.20,191.88 L955.70,191.92 L956.20,191.96 L956.70,192.00 L957.20,192.03 L957.70,192.07 L958.20,192.11 L958.70,192.15 L959.20,192.18 L959.70,192.22 L960.20,192.25 L960.70,192.29 L961.20,192.32 L961.70,192.35 L962.20,192.39 L962.40,192.40 L962.70,192.42 L963.20,192.45 L963.70,192.49 L964.20,192.52 L964.70,192.55 L965.20,192.59 L965.70,192.62 L966.20,192.65 L966.70,192.69 L967.20,192.72 L967.70,192.76 L968.20,192.79 L968.70,192.83 L969.20,192.86 L969.70,192.90 L970.20,192.93 L970.70,192.97 L971.20,193.00 L971.70,193.03 L972.20,193.07 L972.70,193.10 L973.20,193.14 L973.70,193.17 L974.20,193.20 L974.70,193.23 L975.20,193.26 L975.70,193.29 L976.20,193.32 L976.70,193.35 L977.20,193.38 L977.70,193.41 L978.20,193.44 L978.70,193.47 L979.20,193.49 L979.70,193.52 L980.20,193.54 L980.70,193.57 L981.20,193.59 L981.70,193.61 L982.20,193.63 L982.70,193.65 L983.20,193.67 L983.70,193.69 L984.20,193.70 L984.70,193.72 L985.20,193.73 L985.70,193.75 L986.20,193.76 L986.70,193.77 L987.20,193.78 L987.70,193.78 L988.20,193.79 L988.70,193.80 L989.20,193.80 L989.70,193.80 L989.90,193.80 L990.20,193.80 L990.70,193.80 L991.20,193.80 L991.70,193.80 L992.20,193.80 L992.70,193.80 L993.20,193.80 L993.70,193.80 L994.20,193.80 L994.70,193.80 L995.20,193.80 L995.70,193.80 L996.20,193.80 L996.70,193.80 L997.20,193.80 L997.70,193.80 L998.20,193.80 L998.70,193.80 L999.20,193.80 L999.70,193.80 L1000.20,193.80 L1000.70,193.80 L1001.20,193.80 L1001.70,193.80 L1002.20,193.80 L1002.70,193.80 L1003.20,193.80 L1003.60,193.80 L1003.70,193.80 L1004.20,193.79 L1004.70,193.78 L1005.20,193.76 L1005.70,193.73 L1006.20,193.70 L1006.70,193.65 L1007.20,193.61 L1007.70,193.55 L1008.20,193.49 L1008.70,193.43 L1009.20,193.36 L1009.70,193.29 L1010.20,193.22 L1010.70,193.14 L1011.20,193.06 L1011.70,192.97 L1012.20,192.89 L1012.70,192.80 L1013.20,192.71 L1013.70,192.63 L1014.20,192.54 L1014.70,192.45 L1015.20,192.36 L1015.70,192.27 L1016.20,192.18 L1016.70,192.10 L1017.20,192.02 L1017.30,192.00 L1017.70,191.93 L1018.20,191.85 L1018.70,191.77 L1019.20,191.68 L1019.70,191.59 L1020.20,191.50 L1020.70,191.40 L1021.20,191.31 L1021.70,191.21 L1022.20,191.11 L1022.70,191.01 L1023.20,190.91 L1023.70,190.80 L1024.20,190.69 L1024.70,190.58 L1025.20,190.47 L1025.70,190.35 L1026.20,190.23 L1026.70,190.11 L1027.20,189.98 L1027.70,189.86 L1028.20,189.73 L1028.30,189.70 L1028.70,189.59 L1029.20,189.45 L1029.70,189.30 L1030.20,189.15 L1030.70,188.99 L1031.20,188.82 L1031.70,188.65 L1032.20,188.48 L1032.70,188.30 L1033.20,188.12 L1033.70,187.93 L1034.20,187.74 L1034.70,187.55 L1035.20,187.36 L1035.70,187.16 L1036.20,186.97 L1036.70,186.77 L1037.20,186.58 L1037.70,186.38 L1037.90,186.30 L1038.20,186.18 L1038.70,185.98 L1039.20,185.78 L1039.70,185.58 L1040.20,185.37 L1040.70,185.16 L1041.20,184.95 L1041.70,184.74 L1042.20,184.52 L1042.70,184.29 L1043.20,184.06 L1043.70,183.83 L1044.20,183.59 L1044.70,183.35 L1044.80,183.30 L1045.20,183.10 L1045.70,182.84 L1046.20,182.57 L1046.70,182.29 L1047.20,182.01 L1047.70,181.72 L1048.20,181.43 L1048.70,181.13 L1049.20,180.83 L1049.70,180.53 L1050.20,180.23 L1050.70,179.93 L1051.20,179.63 L1051.60,179.40 L1051.70,179.34 L1052.20,179.05 L1052.70,178.76 L1053.20,178.47 L1053.70,178.18 L1054.20,177.89 L1054.70,177.60 L1055.20,177.31 L1055.70,177.01 L1056.20,176.72 L1056.70,176.42 L1057.20,176.11 L1057.70,175.80 L1058.20,175.49 L1058.50,175.30 L1058.70,175.17 L1059.20,174.85 L1059.70,174.53 L1060.20,174.20 L1060.70,173.87 L1061.20,173.54 L1061.70,173.20 L1062.20,172.87 L1062.70,172.53 L1063.20,172.19 L1063.70,171.84 L1064.20,171.50 L1064.70,171.15 L1065.20,170.80 L1065.70,170.44 L1066.20,170.09 L1066.70,169.73 L1067.20,169.37 L1067.70,169.01 L1068.20,168.65 L1068.70,168.29 L1069.20,167.92 L1069.70,167.56 L1070.20,167.19 L1070.70,166.82 L1071.20,166.45 L1071.70,166.07 L1072.20,165.70 L1072.70,165.32 L1073.20,164.94 L1073.70,164.56 L1074.20,164.17 L1074.70,163.78 L1075.20,163.38 L1075.70,162.98 L1076.20,162.58 L1076.70,162.18 L1077.20,161.77 L1077.70,161.37 L1078.20,160.96 L1078.70,160.55 L1079.20,160.14 L1079.70,159.73 L1080.20,159.32 L1080.70,158.90 L1081.20,158.49 L1081.70,158.08 L1082.20,157.67 L1082.70,157.27 L1083.20,156.86 L1083.70,156.45 L1084.20,156.05 L1084.70,155.65 L1085.20,155.25 L1085.70,154.86 L1085.90,154.70 L1086.20,154.47 L1086.70,154.08 L1087.20,153.70 L1087.70,153.33 L1088.20,152.96 L1088.70,152.59 L1089.20,152.21 L1089.70,151.84 L1090.20,151.45 L1090.70,151.06 L1091.20,150.66 L1091.70,150.25 L1092.00,150.00 L1092.20,149.83 L1092.70,149.40 L1093.20,148.95 L1093.70,148.50 L1094.20,148.04 L1094.70,147.58 L1095.20,147.11 L1095.70,146.63 L1096.20,146.14 L1096.70,145.66 L1097.20,145.16 L1097.70,144.67 L1098.20,144.16 L1098.70,143.66 L1099.20,143.16 L1099.70,142.65 L1100.20,142.14 L1100.70,141.63 L1101.20,141.12 L1101.70,140.61 L1102.20,140.10 L1102.30,140.00 L1102.70,139.59 L1103.20,139.08 L1103.70,138.56 L1104.20,138.05 L1104.70,137.52 L1105.20,137.00 L1105.70,136.47 L1106.20,135.94 L1106.70,135.41 L1107.20,134.88 L1107.70,134.34 L1108.20,133.81 L1108.70,133.27 L1109.20,132.73 L1109.70,132.19 L1110.20,131.65 L1110.70,131.10 L1111.20,130.56 L1111.70,130.02 L1112.20,129.48 L1112.70,128.93 L1113.20,128.39 L1113.70,127.85 L1114.20,127.31 L1114.30,127.20 L1114.70,126.77 L1115.20,126.22 L1115.70,125.66 L1116.20,125.10 L1116.70,124.54 L1117.20,123.97 L1117.70,123.41 L1118.20,122.84 L1118.70,122.28 L1119.20,121.72 L1119.70,121.17 L1120.20,120.62 L1120.70,120.07 L1121.20,119.54 L1121.70,119.01 L1122.20,118.50 L1122.70,118.00 L1122.90,117.80 L1123.20,117.50 L1123.70,117.00 L1124.20,116.49 L1124.70,115.97 L1125.20,115.46 L1125.70,114.96 L1126.20,114.46 L1126.70,113.98 L1127.20,113.53 L1127.70,113.09 L1128.20,112.69 L1128.70,112.32 L1129.20,111.99 L1129.70,111.70 L1130.20,111.43 L1130.70,111.16 L1131.20,110.90 L1131.70,110.64 L1132.20,110.40 L1132.70,110.19 L1133.20,110.00 L1133.70,109.86 L1134.20,109.76 L1134.70,109.70 L1134.90,109.70 L1135.20,109.71 L1135.70,109.77 L1136.20,109.87 L1136.70,110.01 L1137.20,110.20 L1137.70,110.41 L1138.20,110.66 L1138.70,110.93 L1139.20,111.21 L1139.70,111.51 L1140.00,111.70 L1140.20,111.84 L1140.70,112.27 L1141.20,112.83 L1141.70,113.50 L1142.20,114.24 L1142.70,115.04 L1143.20,115.89 L1143.70,116.76 L1144.20,117.63 L1144.30,117.80 L1144.70,118.50 L1145.20,119.43 L1145.70,120.40 L1146.20,121.43 L1146.70,122.51 L1147.20,123.65 L1147.70,124.86 L1148.20,126.13 L1148.60,127.20 L1148.70,127.48 L1149.20,128.96 L1149.70,130.60 L1150.20,132.37 L1150.70,134.22 L1151.20,136.12 L1151.70,138.05 L1152.00,139.20 L1152.20,139.99 L1152.70,142.08 L1153.20,144.27 L1153.70,146.46 L1154.20,148.51 L1154.60,150.00 L1154.70,150.34 L1155.20,151.93 L1155.70,153.40 L1156.00,154.30 L1156.20,154.91 L1156.70,156.48 L1157.20,158.07 L1157.70,159.66 L1158.20,161.24 L1158.70,162.78 L1159.20,164.26 L1159.70,165.66 L1160.20,166.96 L1160.30,167.20 L1160.70,168.14 L1161.20,169.24 L1161.70,170.28 L1162.20,171.25 L1162.60,172.00 L1162.70,172.18 L1163.20,173.11 L1163.70,174.03 L1164.20,174.94 L1164.70,175.81 L1165.20,176.64 L1165.70,177.40 L1166.20,178.09 L1166.70,178.69 L1166.90,178.90 L1167.20,179.20 L1167.70,179.68 L1168.20,180.14 L1168.70,180.57 L1169.20,180.98 L1169.70,181.36 L1170.20,181.72 L1170.70,182.05 L1171.20,182.35 L1171.70,182.64 L1172.20,182.89 L1172.30,182.93" stroke="#d51c1e" stroke-width="2.917" stroke-dasharray="18.715 4.681 2.924 4.681" stroke-dashoffset="0.000"/>
<path d="M1172.30,182.93 L1172.70,183.12 L1172.90,183.20 L1173.20,183.32 L1173.70,183.50 L1174.20,183.66 L1174.70,183.81 L1175.20,183.95 L1175.70,184.07 L1176.20,184.20 L1176.70,184.32 L1177.20,184.44 L1177.70,184.57 L1178.20,184.70 L1178.70,184.84 L1178.90,184.90 L1179.20,184.99 L1179.70,185.14 L1180.20,185.30 L1180.70,185.45 L1181.20,185.61 L1181.70,185.77 L1182.20,185.94 L1182.70,186.11 L1183.20,186.29 L1183.70,186.48 L1184.00,186.60 L1184.20,186.68 L1184.70,186.88 L1185.20,187.08 L1185.70,187.28 L1186.20,187.51 L1186.70,187.74 L1187.20,188.01 L1187.70,188.30 L1188.20,188.63 L1188.30,188.70 L1188.70,189.01 L1189.20,189.45 L1189.70,189.97 L1190.20,190.56 L1190.70,191.21 L1191.20,191.93 L1191.70,192.72 L1192.20,193.57 L1192.60,194.30 L1192.70,194.49 L1193.20,195.60 L1193.70,196.93 L1194.20,198.45 L1194.70,200.15 L1195.20,202.00 L1195.70,204.21 L1196.20,206.87 L1196.70,209.76 L1197.20,212.68 L1197.70,215.40 L1198.20,217.75 L1198.70,219.91 L1199.20,222.23 L1199.70,225.05 L1199.80,225.70 L1200.20,229.08 L1200.70,234.41 L1201.20,239.50 L1201.70,243.83 L1202.20,247.92 L1202.70,251.75 L1202.90,253.20 L1203.20,255.37 L1203.70,258.99 L1204.20,262.33 L1204.70,265.11 L1204.90,266.00 L1205.20,267.17 L1205.70,268.87 L1206.20,270.12 L1206.30,270.30" stroke="#d51c1e" stroke-width="2.917" stroke-dasharray="18.591 4.650 2.905 4.650" stroke-dashoffset="0.000"/>
<path d="M1206.30,270.30 L1206.30,270.30 L1206.80,269.27 L1207.30,268.03 L1207.80,266.61 L1208.00,266.00 L1208.30,264.98 L1208.80,263.00 L1209.30,260.77 L1209.80,258.45 L1210.30,256.18 L1210.60,254.90 L1210.80,254.08 L1211.30,252.00 L1211.80,249.95 L1212.30,247.94 L1212.80,246.03 L1213.20,244.60 L1213.30,244.25 L1213.80,242.53 L1214.30,240.85 L1214.80,239.28 L1215.30,237.87 L1215.70,236.90 L1215.80,236.67 L1216.30,235.51 L1216.80,234.34 L1217.30,233.23 L1217.80,232.26 L1218.30,231.50 L1218.80,231.03 L1219.20,230.90 L1219.30,230.91 L1219.80,231.15 L1220.30,231.67 L1220.80,232.43 L1221.30,233.34 L1221.80,234.35 L1222.30,235.39 L1222.60,236.00 L1222.80,236.42 L1223.30,237.62 L1223.80,239.01 L1224.30,240.53 L1224.80,242.17 L1225.30,243.88 L1225.80,245.61 L1226.00,246.30 L1226.30,247.36 L1226.80,249.22 L1227.30,251.19 L1227.80,253.23 L1228.30,255.33 L1228.60,256.60 L1228.80,257.47 L1229.30,259.78 L1229.80,262.19 L1230.30,264.60 L1230.80,266.90 L1231.20,268.60 L1231.30,269.00 L1231.80,271.03 L1232.30,273.04 L1232.80,274.98 L1233.30,276.80 L1233.80,278.45 L1234.30,279.87 L1234.60,280.60 L1234.80,281.04 L1235.30,282.05 L1235.80,282.96 L1236.30,283.78 L1236.80,284.54 L1237.30,285.26 L1237.80,285.96 L1238.30,286.65 L1238.80,287.35 L1238.90,287.50 L1239.30,288.08 L1239.80,288.79 L1240.30,289.48 L1240.80,290.15 L1241.30,290.82 L1241.80,291.48 L1242.30,292.12 L1242.80,292.77 L1243.30,293.41 L1243.80,294.04 L1244.00,294.30 L1244.30,294.68 L1244.80,295.31 L1245.30,295.92 L1245.80,296.54 L1246.30,297.14 L1246.50,297.39" stroke="#d51c1e" stroke-width="2.917" stroke-dasharray="18.770 4.695 2.933 4.695" stroke-dashoffset="9.350"/>
<path d="M1246.50,297.39 L1246.80,297.75 L1247.30,298.36 L1247.50,298.60 L1247.80,298.97 L1248.30,299.60 L1248.80,300.23 L1249.30,300.88 L1249.80,301.52 L1250.30,302.16 L1250.80,302.79 L1251.30,303.40 L1251.80,303.99 L1252.30,304.56 L1252.80,305.10 L1253.30,305.60 L1253.80,306.08 L1254.30,306.54 L1254.80,306.99 L1255.30,307.43 L1255.80,307.85 L1256.30,308.26 L1256.80,308.67 L1257.30,309.05 L1257.80,309.43 L1258.30,309.80 L1258.80,310.16 L1259.30,310.50 L1259.80,310.84 L1260.20,311.10 L1260.30,311.16 L1260.80,311.48 L1261.30,311.80 L1261.80,312.11 L1262.30,312.41 L1262.80,312.70 L1263.30,312.99 L1263.80,313.27 L1264.30,313.54 L1264.80,313.79 L1265.30,314.04 L1265.80,314.28 L1266.30,314.51 L1266.80,314.72 L1267.00,314.80 L1267.30,314.92 L1267.80,315.11 L1268.30,315.30 L1268.80,315.49 L1269.30,315.67 L1269.80,315.84 L1270.30,316.00 L1270.80,316.16 L1271.30,316.32 L1271.80,316.46 L1271.90,316.49" stroke="#d51c1e" stroke-width="2.917" stroke-dasharray="19.587 4.899 3.060 4.899" stroke-dashoffset="0.000"/>
<path d="M1271.90,316.49 L1272.30,316.60 L1272.80,316.73 L1273.30,316.86 L1273.80,316.98 L1273.90,317.00 L1274.30,317.09 L1274.80,317.20 L1275.30,317.30 L1275.80,317.40 L1276.30,317.50 L1276.80,317.59 L1277.30,317.68 L1277.80,317.77 L1278.30,317.85 L1278.80,317.93 L1279.30,318.00 L1279.80,318.07 L1280.30,318.14 L1280.80,318.20 L1281.30,318.26 L1281.80,318.33 L1282.30,318.40 L1282.80,318.46 L1283.30,318.51 L1283.80,318.56 L1284.30,318.59 L1284.80,318.60 L1284.90,318.60 L1285.30,318.60 L1285.80,318.58 L1286.30,318.56 L1286.80,318.52 L1287.30,318.48 L1287.80,318.43 L1288.30,318.38 L1288.80,318.31 L1289.30,318.25 L1289.80,318.18 L1290.30,318.11 L1290.80,318.03 L1291.30,317.96 L1291.70,317.90 L1291.80,317.89 L1292.30,317.80 L1292.80,317.71 L1293.30,317.60 L1293.80,317.49 L1294.30,317.37 L1294.80,317.24 L1295.30,317.10 L1295.80,316.96 L1296.30,316.81 L1296.80,316.66 L1297.30,316.51 L1297.80,316.35 L1298.30,316.19 L1298.60,316.10 L1298.80,316.04 L1299.30,315.87 L1299.80,315.71 L1300.30,315.53 L1300.80,315.35 L1301.30,315.16 L1301.80,314.97 L1302.30,314.77 L1302.70,314.61" stroke="#d51c1e" stroke-width="2.917" stroke-dasharray="19.038 4.762 2.975 4.762" stroke-dashoffset="0.000"/>
<path d="M1302.70,314.61 L1302.80,314.57 L1303.30,314.36 L1303.80,314.15 L1304.30,313.94 L1304.80,313.72 L1305.30,313.49 L1305.50,313.40 L1305.80,313.26 L1306.30,313.03 L1306.80,312.79 L1307.30,312.54 L1307.80,312.29 L1308.30,312.03 L1308.80,311.77 L1309.30,311.49 L1309.80,311.21 L1310.30,310.93 L1310.80,310.63 L1311.30,310.33 L1311.80,310.02 L1312.30,309.70 L1312.80,309.37 L1313.30,309.02 L1313.80,308.67 L1314.30,308.29 L1314.80,307.91 L1315.30,307.52 L1315.80,307.12 L1316.30,306.71 L1316.80,306.29 L1317.30,305.86 L1317.80,305.43 L1318.30,304.99 L1318.80,304.55 L1319.20,304.20 L1319.30,304.11 L1319.80,303.66 L1320.30,303.20 L1320.80,302.73 L1321.30,302.26 L1321.80,301.77 L1322.30,301.28 L1322.80,300.78 L1323.30,300.27 L1323.80,299.75 L1324.30,299.23 L1324.80,298.70 L1325.30,298.17 L1325.80,297.63 L1326.10,297.30 L1326.30,297.08 L1326.80,296.53 L1327.30,295.97 L1327.80,295.40 L1328.30,294.82 L1328.80,294.24 L1329.30,293.64 L1329.80,293.04 L1330.30,292.43 L1330.80,291.81 L1331.30,291.18 L1331.80,290.54 L1332.30,289.89 L1332.80,289.23 L1332.90,289.10 L1333.30,288.56 L1333.80,287.87 L1334.30,287.17 L1334.80,286.45 L1335.30,285.71 L1335.80,284.97 L1336.30,284.21 L1336.80,283.45 L1337.30,282.68 L1337.80,281.91 L1338.30,281.13 L1338.80,280.36 L1339.30,279.58 L1339.80,278.80 L1340.30,278.02 L1340.80,277.24 L1341.30,276.45 L1341.80,275.66 L1342.30,274.87 L1342.80,274.07 L1343.30,273.26 L1343.80,272.45 L1344.30,271.63 L1344.80,270.81 L1345.30,269.98" stroke="#d51c1e" stroke-width="2.917" stroke-dasharray="18.969 4.745 2.964 4.745" stroke-dashoffset="0.000"/>
<path d="M1345.30,269.98 L1345.30,269.98 L1345.80,269.15 L1346.30,268.31 L1346.60,267.80 L1346.80,267.46 L1347.30,266.61 L1347.80,265.76 L1348.30,264.90 L1348.80,264.03 L1349.30,263.16 L1349.80,262.28 L1350.30,261.40 L1350.80,260.51 L1351.30,259.60 L1351.80,258.69 L1352.30,257.77 L1352.80,256.83 L1353.30,255.88 L1353.50,255.50 L1353.80,254.92 L1354.30,253.95 L1354.80,252.96 L1355.30,251.94 L1355.80,250.88 L1356.20,250.00 L1356.30,249.77 L1356.80,248.60 L1357.30,247.37 L1357.80,246.09 L1358.30,244.77 L1358.80,243.43 L1359.30,242.08 L1359.80,240.73 L1360.30,239.39 L1360.80,238.07 L1361.30,236.79 L1361.70,235.80 L1361.80,235.56 L1362.30,234.35 L1362.80,233.15 L1363.30,231.96 L1363.80,230.78 L1364.30,229.61 L1364.80,228.46 L1365.30,227.33 L1365.80,226.21 L1366.30,225.10 L1366.80,224.02 L1366.90,223.80 L1367.30,222.98 L1367.80,222.04 L1368.30,221.14 L1368.80,220.22 L1369.30,219.25 L1369.80,218.16 L1370.30,216.90 L1370.80,215.26 L1371.30,213.21 L1371.80,210.98 L1372.30,208.81 L1372.80,206.92 L1372.90,206.60 L1373.30,205.40 L1373.80,204.03 L1374.30,202.77 L1374.80,201.57 L1375.30,200.40 L1375.80,199.22 L1376.30,198.00 L1376.80,196.73 L1377.30,195.43 L1377.80,194.13 L1378.30,192.85 L1378.80,191.60 L1379.30,190.41 L1379.70,189.50 L1379.80,189.28 L1380.30,188.18 L1380.80,187.10 L1381.30,186.05 L1381.50,185.65" stroke="#d51c1e" stroke-width="2.917" stroke-dasharray="18.526 4.634 2.895 4.634" stroke-dashoffset="0.000"/>
<path d="M1381.50,185.65 L1381.80,185.05 L1382.30,184.11 L1382.80,183.23 L1383.20,182.60 L1383.30,182.45 L1383.80,181.72 L1384.30,181.02 L1384.80,180.36 L1385.30,179.73 L1385.80,179.14 L1386.30,178.59 L1386.80,178.07 L1387.30,177.58 L1387.50,177.40 L1387.80,177.13 L1388.30,176.71 L1388.80,176.31 L1389.30,175.92 L1389.80,175.56 L1390.30,175.21 L1390.80,174.87 L1391.30,174.55 L1391.80,174.23 L1392.30,173.92 L1392.80,173.62 L1393.30,173.32 L1393.50,173.20 L1393.80,173.02 L1394.30,172.73 L1394.80,172.45 L1395.30,172.18 L1395.80,171.91 L1396.30,171.65 L1396.80,171.39 L1397.30,171.14 L1397.80,170.89 L1398.30,170.64 L1398.80,170.40 L1399.10,170.26" stroke="#d51c1e" stroke-width="2.917" stroke-dasharray="18.010 4.505 2.814 4.505" stroke-dashoffset="0.000"/>
<path d="M1399.10,170.26 L1399.30,170.17 L1399.80,169.93 L1400.30,169.70 L1400.80,169.47 L1401.30,169.23 L1401.80,168.98 L1402.30,168.74 L1402.80,168.50 L1403.30,168.26 L1403.80,168.03 L1404.30,167.81 L1404.80,167.60 L1405.30,167.40 L1405.80,167.22 L1406.30,167.05 L1406.80,166.90 L1407.20,166.80 L1407.30,166.78 L1407.80,166.66 L1408.30,166.55 L1408.80,166.44 L1409.30,166.33 L1409.80,166.23 L1410.30,166.13 L1410.80,166.04 L1411.30,165.95 L1411.80,165.86 L1412.30,165.79 L1412.80,165.71 L1413.30,165.65 L1413.80,165.58 L1414.30,165.53 L1414.80,165.48 L1415.30,165.44 L1415.80,165.40 L1416.30,165.37 L1416.80,165.33 L1417.30,165.30 L1417.80,165.28 L1418.30,165.25 L1418.80,165.23 L1419.30,165.21 L1419.80,165.20 L1420.30,165.20 L1420.80,165.20 L1421.30,165.22 L1421.80,165.24 L1422.30,165.27 L1422.80,165.30 L1423.30,165.34 L1423.80,165.38 L1424.30,165.43 L1424.80,165.48 L1425.30,165.54 L1425.80,165.59 L1426.30,165.65 L1426.80,165.71 L1427.30,165.77 L1427.80,165.82 L1428.30,165.88 L1428.50,165.90 L1428.80,165.93" stroke="#d51c1e" stroke-width="2.917" stroke-dasharray="18.466 4.619 2.885 4.619" stroke-dashoffset="24.529"/>
<path d="M1428.80,165.93 L1428.80,165.93 L1429.30,165.99 L1429.80,166.04 L1430.30,166.10 L1430.80,166.16 L1431.30,166.22 L1431.80,166.29 L1432.30,166.35 L1432.80,166.42 L1433.30,166.49 L1433.80,166.56 L1434.30,166.63 L1434.80,166.70 L1435.30,166.77 L1435.80,166.85 L1436.30,166.93 L1436.80,167.00 L1437.30,167.08 L1437.80,167.17 L1438.30,167.25 L1438.80,167.33 L1439.30,167.42 L1439.80,167.50 L1440.30,167.59 L1440.80,167.68 L1440.90,167.70 L1441.30,167.77 L1441.80,167.87 L1442.30,167.97 L1442.80,168.07 L1443.30,168.17 L1443.80,168.28 L1444.30,168.39 L1444.80,168.50 L1445.30,168.62 L1445.80,168.74 L1446.30,168.86 L1446.80,168.98 L1447.30,169.10 L1447.80,169.23 L1448.30,169.35 L1448.80,169.48 L1449.30,169.61 L1449.80,169.74 L1450.30,169.87 L1450.80,170.00 L1451.20,170.10 L1451.30,170.13 L1451.80,170.26 L1452.30,170.40 L1452.80,170.54 L1453.30,170.68 L1453.80,170.83 L1454.30,170.98 L1454.80,171.13 L1455.30,171.28 L1455.80,171.43 L1456.30,171.59 L1456.80,171.74 L1457.30,171.89 L1457.80,172.05 L1458.30,172.20 L1458.80,172.35 L1459.20,172.47" stroke="#d51c1e" stroke-width="2.917" stroke-dasharray="18.807 4.704 2.938 4.704" stroke-dashoffset="24.982"/>
<path d="M1459.20,172.47 L1459.30,172.50 L1459.80,172.65 L1460.30,172.79 L1460.80,172.93 L1461.30,173.07 L1461.40,173.10 L1461.80,173.21 L1462.30,173.34 L1462.80,173.48 L1463.30,173.61 L1463.80,173.74 L1464.30,173.87 L1464.80,174.00 L1465.30,174.13 L1465.80,174.26 L1466.30,174.38 L1466.80,174.51 L1467.30,174.63 L1467.80,174.76 L1468.30,174.88 L1468.80,175.00 L1469.30,175.12 L1469.80,175.25 L1470.30,175.37 L1470.80,175.49 L1471.30,175.61 L1471.70,175.70 L1471.80,175.72 L1472.30,175.84 L1472.80,175.96 L1473.30,176.07 L1473.80,176.19 L1474.30,176.30 L1474.80,176.41 L1475.30,176.52 L1475.80,176.64 L1476.30,176.75 L1476.80,176.86 L1477.30,176.97 L1477.80,177.08 L1478.30,177.19 L1478.80,177.29 L1479.30,177.40 L1479.80,177.51 L1480.30,177.62 L1480.80,177.73 L1481.30,177.84 L1481.80,177.96 L1482.00,178.00 L1482.30,178.07 L1482.80,178.18 L1483.30,178.29 L1483.80,178.40 L1484.30,178.51 L1484.80,178.62 L1485.30,178.73 L1485.80,178.84 L1486.30,178.96 L1486.80,179.07 L1487.30,179.18 L1487.80,179.29 L1488.30,179.40 L1488.80,179.51 L1489.20,179.60" stroke="#d51c1e" stroke-width="2.917" stroke-dasharray="18.618 4.657 2.909 4.657" stroke-dashoffset="24.731"/>
<path d="M1489.20,179.60 L1489.30,179.62 L1489.80,179.73 L1490.30,179.85 L1490.80,179.96 L1491.30,180.07 L1491.80,180.19 L1492.30,180.30 L1492.80,180.42 L1493.30,180.53 L1493.80,180.65 L1494.30,180.77 L1494.80,180.89 L1495.30,181.01 L1495.80,181.13 L1496.30,181.26 L1496.80,181.38 L1497.30,181.50 L1497.80,181.62 L1498.30,181.74 L1498.80,181.86 L1499.30,181.98 L1499.80,182.09 L1500.30,182.21 L1500.80,182.32 L1501.30,182.43 L1501.80,182.54 L1502.30,182.64 L1502.60,182.70 L1502.80,182.74 L1503.30,182.84 L1503.80,182.94 L1504.30,183.03 L1504.80,183.12 L1505.30,183.22 L1505.80,183.31 L1506.30,183.40 L1506.80,183.49 L1507.30,183.57 L1507.80,183.66 L1508.30,183.75 L1508.80,183.83 L1509.30,183.92 L1509.80,184.00 L1510.30,184.08 L1510.80,184.16 L1511.30,184.24 L1511.80,184.32 L1512.30,184.40 L1512.80,184.48 L1512.90,184.50 L1513.30,184.56 L1513.80,184.64 L1514.30,184.72 L1514.80,184.80 L1515.30,184.88 L1515.80,184.95 L1516.30,185.03 L1516.80,185.10 L1517.30,185.18 L1517.80,185.25 L1518.30,185.32 L1518.80,185.40 L1519.30,185.47 L1519.80,185.54 L1520.30,185.61 L1520.80,185.68 L1521.30,185.75 L1521.80,185.82 L1522.30,185.88 L1522.80,185.95 L1523.20,186.00 L1523.30,186.01 L1523.80,186.08 L1524.30,186.14 L1524.80,186.20 L1525.30,186.27 L1525.80,186.33 L1526.30,186.39 L1526.80,186.45 L1527.30,186.51 L1527.80,186.57 L1528.30,186.63 L1528.80,186.69 L1529.30,186.75 L1529.80,186.80 L1530.30,186.86 L1530.80,186.92 L1531.30,186.97 L1531.80,187.02 L1532.30,187.08 L1532.80,187.13 L1533.30,187.18 L1533.50,187.20 L1533.80,187.23 L1534.30,187.28 L1534.80,187.33 L1535.30,187.38 L1535.80,187.43 L1536.30,187.48 L1536.80,187.52 L1537.30,187.57 L1537.80,187.62 L1538.30,187.66 L1538.80,187.71 L1539.30,187.75 L1539.80,187.79 L1540.30,187.84 L1540.80,187.88 L1541.30,187.92 L1541.80,187.96 L1542.30,188.00 L1542.80,188.03 L1543.30,188.07 L1543.70,188.10 L1543.80,188.11 L1544.30,188.14 L1544.80,188.18 L1545.30,188.22 L1545.80,188.26 L1546.30,188.30 L1546.80,188.34 L1547.30,188.37 L1547.80,188.41 L1548.30,188.45 L1548.80,188.48 L1549.30,188.52 L1549.80,188.55 L1550.30,188.58 L1550.80,188.61 L1551.30,188.63 L1551.80,188.65 L1552.30,188.67 L1552.80,188.68 L1553.30,188.69 L1553.80,188.70 L1554.00,188.70 L1554.30,188.70 L1554.80,188.70 L1555.30,188.70 L1555.80,188.70 L1556.30,188.71 L1556.80,188.71 L1557.30,188.71 L1557.80,188.71 L1558.30,188.71 L1558.80,188.71 L1559.30,188.71 L1559.80,188.71 L1560.30,188.71 L1560.80,188.71 L1561.30,188.72 L1561.80,188.72 L1562.30,188.72 L1562.80,188.72 L1563.30,188.72 L1563.80,188.72 L1564.30,188.72 L1564.80,188.72 L1565.30,188.72 L1565.80,188.72 L1566.30,188.73 L1566.80,188.73 L1567.30,188.73 L1567.80,188.73 L1568.30,188.73 L1568.80,188.73 L1569.30,188.73 L1569.80,188.73 L1570.30,188.73 L1570.80,188.73 L1571.30,188.73 L1571.80,188.74 L1572.30,188.74 L1572.80,188.74 L1573.30,188.74 L1573.80,188.74 L1574.30,188.74 L1574.80,188.74 L1575.30,188.74 L1575.80,188.74 L1576.30,188.74 L1576.80,188.74 L1577.30,188.74 L1577.80,188.75 L1578.30,188.75 L1578.80,188.75 L1579.30,188.75 L1579.80,188.75 L1580.30,188.75 L1580.80,188.75 L1581.30,188.75 L1581.80,188.75 L1582.30,188.75 L1582.80,188.75 L1583.30,188.75 L1583.80,188.75 L1584.30,188.76 L1584.80,188.76 L1585.30,188.76 L1585.80,188.76 L1586.30,188.76 L1586.80,188.76 L1587.30,188.76 L1587.80,188.76 L1588.30,188.76 L1588.80,188.76 L1589.30,188.76 L1589.80,188.76 L1590.30,188.76 L1590.80,188.76 L1591.30,188.76 L1591.80,188.76 L1592.30,188.77 L1592.80,188.77 L1593.30,188.77 L1593.80,188.77 L1594.30,188.77 L1594.80,188.77 L1595.30,188.77 L1595.80,188.77 L1596.30,188.77 L1596.80,188.77 L1597.30,188.77 L1597.80,188.77 L1598.30,188.77 L1598.80,188.77 L1599.30,188.77 L1599.80,188.77 L1600.30,188.77 L1600.80,188.77 L1601.30,188.77 L1601.80,188.78 L1602.30,188.78 L1602.80,188.78 L1603.30,188.78 L1603.80,188.78 L1604.30,188.78 L1604.80,188.78 L1605.30,188.78 L1605.80,188.78 L1606.30,188.78 L1606.80,188.78 L1607.30,188.78 L1607.80,188.78 L1608.30,188.78 L1608.80,188.78 L1609.30,188.78 L1609.80,188.78 L1610.30,188.78 L1610.80,188.78 L1611.30,188.78 L1611.80,188.78 L1612.30,188.78 L1612.80,188.78 L1613.30,188.78 L1613.80,188.78 L1614.30,188.79 L1614.80,188.79 L1615.30,188.79 L1615.80,188.79 L1616.30,188.79 L1616.80,188.79 L1617.30,188.79 L1617.80,188.79 L1618.30,188.79 L1618.80,188.79 L1619.30,188.79 L1619.80,188.79 L1620.30,188.79 L1620.80,188.79 L1621.30,188.79 L1621.80,188.79 L1622.30,188.79 L1622.80,188.79 L1623.30,188.79 L1623.80,188.79 L1624.30,188.79 L1624.80,188.79 L1625.30,188.79 L1625.80,188.79 L1626.30,188.79 L1626.80,188.79 L1627.30,188.79 L1627.80,188.79 L1628.30,188.79 L1628.80,188.79 L1629.30,188.79 L1629.80,188.79 L1630.30,188.79 L1630.80,188.79 L1631.30,188.79 L1631.80,188.79 L1632.30,188.79 L1632.80,188.79 L1633.30,188.79 L1633.80,188.79 L1634.30,188.79 L1634.80,188.80 L1635.30,188.80 L1635.80,188.80 L1636.30,188.80 L1636.80,188.80 L1637.30,188.80 L1637.80,188.80 L1638.30,188.80 L1638.80,188.80 L1639.30,188.80 L1639.80,188.80 L1640.30,188.80 L1640.80,188.80 L1641.30,188.80 L1641.80,188.80 L1642.30,188.80 L1642.80,188.80 L1643.30,188.80 L1643.80,188.80 L1644.30,188.80 L1644.80,188.80 L1645.30,188.80 L1645.80,188.80 L1646.30,188.80 L1646.80,188.80 L1647.30,188.80 L1647.80,188.80 L1648.30,188.80 L1648.80,188.80 L1649.30,188.80 L1649.80,188.80 L1650.30,188.80 L1650.80,188.80 L1651.30,188.80 L1651.80,188.80 L1652.30,188.80 L1652.80,188.80 L1653.30,188.80 L1653.80,188.80 L1654.30,188.80 L1654.80,188.80 L1655.30,188.80 L1655.80,188.80 L1656.30,188.80 L1656.80,188.80 L1657.30,188.80 L1657.80,188.80 L1658.30,188.80 L1658.80,188.80 L1659.30,188.80 L1659.80,188.80 L1660.30,188.80 L1660.80,188.80 L1661.30,188.80 L1661.80,188.80 L1662.30,188.80 L1662.80,188.80 L1663.30,188.80 L1663.80,188.80 L1664.30,188.80 L1664.80,188.80 L1665.30,188.80 L1665.80,188.80 L1666.30,188.80 L1666.80,188.80 L1667.30,188.80 L1667.80,188.80 L1668.30,188.80 L1668.80,188.80 L1669.30,188.80 L1669.80,188.80 L1670.30,188.80 L1670.80,188.80 L1671.10,188.80" stroke="#d51c1e" stroke-width="2.917" stroke-dasharray="18.670 4.670 2.917 4.670" stroke-dashoffset="24.800"/>
<path d="M939.20,190.40 L939.70,190.45 L940.20,190.50 L940.70,190.55 L941.20,190.60 L941.70,190.65 L942.20,190.70 L942.70,190.75 L943.20,190.80 L943.70,190.85 L944.20,190.90 L944.70,190.95 L945.20,191.00 L945.70,191.04 L946.20,191.09 L946.70,191.14 L947.20,191.18 L947.70,191.23 L948.20,191.28 L948.70,191.32 L949.20,191.37 L949.70,191.41 L950.20,191.46 L950.70,191.50 L951.20,191.54 L951.70,191.59 L952.20,191.63 L952.70,191.67 L953.20,191.72 L953.70,191.76 L954.20,191.80 L954.70,191.84 L955.20,191.88 L955.70,191.92 L956.20,191.96 L956.70,192.00 L957.20,192.03 L957.70,192.07 L958.20,192.11 L958.70,192.15 L959.20,192.18 L959.70,192.22 L960.20,192.25 L960.70,192.29 L961.20,192.32 L961.70,192.35 L962.20,192.39 L962.40,192.40 L962.70,192.42 L963.20,192.45 L963.70,192.49 L964.20,192.52 L964.70,192.55 L965.20,192.59 L965.70,192.62 L966.20,192.65 L966.70,192.69 L967.20,192.72 L967.70,192.76 L968.20,192.79 L968.70,192.83 L969.20,192.86 L969.70,192.90 L970.20,192.93 L970.70,192.97 L971.20,193.00 L971.70,193.03 L972.20,193.07 L972.70,193.10 L973.20,193.14 L973.70,193.17 L974.20,193.20 L974.70,193.23 L975.20,193.26 L975.70,193.29 L976.20,193.32 L976.70,193.35 L977.20,193.38 L977.70,193.41 L978.20,193.44 L978.70,193.47 L979.20,193.49 L979.70,193.52 L980.20,193.54 L980.70,193.57 L981.20,193.59 L981.70,193.61 L982.20,193.63 L982.70,193.65 L983.20,193.67 L983.70,193.69 L984.20,193.70 L984.70,193.72 L985.20,193.73 L985.70,193.75 L986.20,193.76 L986.70,193.77 L987.20,193.78 L987.70,193.78 L988.20,193.79 L988.70,193.80 L989.20,193.80 L989.70,193.80 L989.90,193.80 L990.20,193.80 L990.70,193.80 L991.20,193.80 L991.70,193.80 L992.20,193.80 L992.70,193.80 L993.20,193.80 L993.70,193.80 L994.20,193.80 L994.70,193.80 L995.20,193.80 L995.70,193.80 L996.20,193.80 L996.70,193.80 L997.20,193.80 L997.70,193.80 L998.20,193.80 L998.70,193.80 L999.20,193.80 L999.70,193.80 L1000.20,193.80 L1000.70,193.80 L1001.20,193.80 L1001.70,193.80 L1002.20,193.80 L1002.70,193.80 L1003.20,193.80 L1003.60,193.80 L1003.70,193.80 L1004.20,193.79 L1004.70,193.78 L1005.20,193.76 L1005.70,193.74 L1006.20,193.71 L1006.70,193.67 L1007.20,193.63 L1007.70,193.58 L1008.20,193.53 L1008.70,193.48 L1009.20,193.42 L1009.70,193.36 L1010.20,193.29 L1010.70,193.22 L1011.20,193.15 L1011.70,193.07 L1012.20,193.00 L1012.70,192.92 L1013.20,192.84 L1013.70,192.76 L1014.20,192.69 L1014.70,192.61 L1015.20,192.53 L1015.70,192.45 L1016.20,192.37 L1016.70,192.29 L1017.20,192.21 L1017.30,192.20 L1017.70,192.14 L1018.20,192.06 L1018.70,191.98 L1019.20,191.90 L1019.70,191.81 L1020.20,191.73 L1020.70,191.64 L1021.20,191.54 L1021.70,191.45 L1022.20,191.35 L1022.70,191.25 L1023.20,191.15 L1023.70,191.05 L1024.20,190.94 L1024.70,190.83 L1025.20,190.72 L1025.70,190.61 L1026.20,190.50 L1026.70,190.38 L1027.20,190.27 L1027.70,190.15 L1028.20,190.02 L1028.30,190.00 L1028.70,189.90 L1029.20,189.77 L1029.70,189.63 L1030.20,189.48 L1030.70,189.34 L1031.20,189.18 L1031.70,189.02 L1032.20,188.86 L1032.70,188.70 L1033.20,188.53 L1033.70,188.37 L1034.20,188.20 L1034.70,188.03 L1035.20,187.86 L1035.70,187.70 L1036.20,187.53 L1036.70,187.37 L1037.20,187.21 L1037.70,187.06 L1037.90,187.00 L1038.20,186.91 L1038.70,186.76 L1039.20,186.62 L1039.70,186.47 L1040.20,186.33 L1040.70,186.19 L1041.20,186.05 L1041.70,185.91 L1042.20,185.76 L1042.70,185.62 L1043.20,185.48 L1043.70,185.33 L1044.20,185.18 L1044.70,185.03 L1044.80,185.00 L1045.20,184.88 L1045.70,184.73 L1046.20,184.57 L1046.70,184.42 L1047.20,184.27 L1047.70,184.12 L1048.20,183.96 L1048.70,183.80 L1049.20,183.64 L1049.70,183.47 L1050.20,183.30 L1050.70,183.13 L1051.20,182.95 L1051.60,182.80 L1051.70,182.76 L1052.20,182.57 L1052.70,182.36 L1053.20,182.15 L1053.70,181.93 L1054.20,181.70 L1054.70,181.47 L1055.20,181.24 L1055.70,181.01 L1056.20,180.77 L1056.70,180.53 L1057.20,180.30 L1057.70,180.06 L1058.20,179.84 L1058.50,179.70 L1058.70,179.61 L1059.20,179.39 L1059.70,179.17 L1060.20,178.95 L1060.70,178.73 L1061.20,178.51 L1061.70,178.30 L1062.20,178.08 L1062.70,177.87 L1063.20,177.65 L1063.70,177.44 L1064.20,177.23 L1064.70,177.01 L1065.20,176.79 L1065.70,176.58 L1066.20,176.36 L1066.70,176.14 L1067.20,175.92 L1067.70,175.70 L1068.20,175.48 L1068.70,175.25 L1069.20,175.02 L1069.70,174.79 L1070.20,174.56 L1070.70,174.33 L1071.20,174.09 L1071.70,173.85 L1072.20,173.60 L1072.70,173.35 L1073.20,173.10 L1073.70,172.85 L1074.20,172.60 L1074.70,172.35 L1075.20,172.10 L1075.70,171.84 L1076.20,171.59 L1076.70,171.33 L1077.20,171.06 L1077.70,170.80 L1078.20,170.53 L1078.70,170.27 L1079.20,169.99 L1079.70,169.72 L1080.20,169.44 L1080.70,169.16 L1081.20,168.87 L1081.70,168.59 L1082.20,168.29 L1082.70,168.00 L1083.20,167.70 L1083.70,167.39 L1084.20,167.08 L1084.70,166.77 L1085.20,166.45 L1085.70,166.13 L1085.90,166.00 L1086.20,165.80 L1086.70,165.46 L1087.20,165.10 L1087.70,164.73 L1088.20,164.34 L1088.70,163.96 L1089.20,163.56 L1089.70,163.17 L1090.20,162.77 L1090.70,162.38 L1091.20,161.99 L1091.70,161.60 L1092.20,161.22 L1092.70,160.84 L1093.20,160.47 L1093.70,160.09 L1094.20,159.72 L1094.70,159.35 L1095.20,158.97 L1095.70,158.59 L1096.20,158.21 L1096.70,157.82 L1097.20,157.43 L1097.70,157.03 L1098.20,156.62 L1098.35,156.50 L1098.70,156.21 L1099.20,155.79 L1099.70,155.36 L1100.20,154.93 L1100.70,154.49 L1101.20,154.04 L1101.70,153.60 L1102.20,153.14 L1102.70,152.69 L1103.20,152.23 L1103.70,151.77 L1104.10,151.40 L1104.20,151.31 L1104.70,150.85 L1105.20,150.39 L1105.70,149.92 L1106.20,149.46 L1106.70,148.99 L1107.20,148.51 L1107.70,148.03 L1108.20,147.54 L1108.70,147.03 L1109.20,146.52 L1109.50,146.20 L1109.70,145.99 L1110.20,145.44 L1110.70,144.89 L1111.20,144.32 L1111.70,143.74 L1112.20,143.15 L1112.70,142.55 L1113.20,141.94 L1113.70,141.32 L1114.20,140.68 L1114.50,140.30" stroke="#808080" stroke-width="2.917" stroke-dasharray="2.915 4.810" stroke-dashoffset="3.798"/>
<path d="M1114.50,140.30 L1114.50,140.30 L1114.80,139.70 L1115.30,146.70 L1115.70,154.30 L1116.30,162.10 L1116.90,169.70 L1117.30,177.40 L1118.00,185.00 L1118.40,188.80 L1122.30,188.80" stroke="#808080" stroke-width="2.917" stroke-dasharray="2.901 4.786" stroke-dashoffset="1.442"/>
<path d="M1122.30,188.80 L1122.30,188.80 L1174.00,188.80 L1174.30,185.00 L1174.80,179.10" stroke="#808080" stroke-width="2.917" stroke-dasharray="2.898 4.781" stroke-dashoffset="1.440"/>
<path d="M1174.80,179.10 L1174.80,179.10 L1175.40,171.50 L1175.90,163.70 L1176.40,156.10 L1177.00,148.20 L1177.50,140.60" stroke="#808080" stroke-width="2.917" stroke-dasharray="2.913 4.806" stroke-dashoffset="1.448"/>
<path d="M1177.50,140.60 L1177.50,140.60 L1177.90,138.90 L1180.70,144.30" stroke="#808080" stroke-width="2.917" stroke-dasharray="2.954 4.875" stroke-dashoffset="1.469"/>
<path d="M1180.70,144.30 L1180.70,144.30 L1181.20,145.18 L1181.70,146.05 L1182.20,146.92 L1182.70,147.77 L1183.20,148.61 L1183.70,149.44 L1184.20,150.25 L1184.60,150.90 L1184.70,151.06 L1185.20,151.86 L1185.70,152.64 L1186.20,153.42 L1186.70,154.18 L1187.20,154.94 L1187.70,155.69 L1188.20,156.43 L1188.70,157.16 L1188.80,157.30 L1189.20,157.87 L1189.70,158.58 L1190.20,159.27 L1190.70,159.95 L1191.20,160.63 L1191.70,161.30 L1192.20,161.98 L1192.70,162.67 L1193.20,163.36 L1193.30,163.50 L1193.70,164.07 L1194.20,164.78 L1194.70,165.50 L1195.20,166.23 L1195.70,166.95 L1196.20,167.67 L1196.70,168.39 L1197.20,169.10 L1197.70,169.80 L1198.20,170.48 L1198.70,171.15 L1199.20,171.81 L1199.70,172.46 L1200.20,173.12 L1200.70,173.77 L1201.20,174.44 L1201.70,175.12 L1202.20,175.82 L1202.40,176.10 L1202.70,176.53 L1203.20,177.24 L1203.70,177.95 L1204.20,178.67 L1204.70,179.41 L1205.20,180.18 L1205.70,180.99 L1206.20,181.86 L1206.50,182.40 L1206.70,182.78 L1207.20,183.81 L1207.70,184.92 L1208.20,186.09 L1208.70,187.30 L1209.20,188.51 L1209.70,189.70 L1210.20,190.83 L1210.70,191.91 L1211.20,193.00 L1211.70,194.15 L1212.20,195.44 L1212.70,196.90 L1213.20,198.75 L1213.70,200.98 L1214.20,203.29 L1214.50,204.60 L1214.70,205.43 L1215.20,207.44 L1215.70,209.46 L1216.20,211.56 L1216.30,212.00 L1216.70,213.85 L1217.20,216.30 L1217.70,218.73 L1217.80,219.20 L1218.20,221.07 L1218.70,223.38 L1219.20,225.62 L1219.50,226.90 L1219.70,227.73 L1220.20,229.73 L1220.70,231.65 L1221.20,233.55 L1221.40,234.30 L1221.70,235.43 L1222.20,237.31 L1222.70,239.15 L1223.20,240.95 L1223.50,242.00 L1223.70,242.69 L1224.20,244.37 L1224.70,246.00 L1225.20,247.61 L1225.70,249.20 L1226.20,250.75 L1226.70,252.27 L1227.20,253.78 L1227.70,255.32 L1228.10,256.60 L1228.20,256.93 L1228.70,258.67 L1229.20,260.48 L1229.70,262.27 L1230.20,263.98 L1230.30,264.30 L1230.70,265.57 L1231.20,267.14 L1231.70,268.64 L1232.20,270.04 L1232.70,271.30 L1233.20,272.43 L1233.70,273.48 L1234.20,274.47 L1234.70,275.41 L1235.20,276.31 L1235.70,277.20 L1236.20,278.10 L1236.70,278.99 L1237.20,279.84 L1237.70,280.67 L1238.20,281.50 L1238.70,282.31 L1239.20,283.13 L1239.70,283.97 L1240.20,284.83 L1240.30,285.00 L1240.70,285.72 L1241.20,286.64 L1241.70,287.59 L1242.20,288.54 L1242.70,289.47 L1243.20,290.36 L1243.70,291.20 L1244.20,291.99 L1244.70,292.77 L1245.20,293.52 L1245.70,294.25 L1246.20,294.97 L1246.70,295.66 L1247.20,296.34 L1247.70,296.99 L1248.20,297.63 L1248.50,298.00 L1248.70,298.24 L1249.20,298.84 L1249.70,299.41 L1250.20,299.96 L1250.70,300.50 L1251.20,301.03 L1251.70,301.55 L1252.20,302.07 L1252.70,302.58 L1253.20,303.09 L1253.60,303.50 L1253.70,303.60 L1254.20,304.12 L1254.70,304.65 L1255.20,305.18 L1255.70,305.71 L1256.20,306.23 L1256.70,306.74 L1257.20,307.25 L1257.70,307.73 L1258.20,308.20 L1258.70,308.64 L1259.20,309.06 L1259.50,309.30 L1259.70,309.45 L1260.20,309.83 L1260.70,310.19 L1261.20,310.54 L1261.70,310.87 L1262.20,311.20 L1262.70,311.51 L1263.20,311.82 L1263.70,312.12 L1264.20,312.41 L1264.70,312.69 L1265.20,312.97 L1265.70,313.24 L1266.00,313.40 L1266.20,313.51 L1266.70,313.77 L1267.20,314.04 L1267.70,314.30 L1268.20,314.56 L1268.70,314.82 L1269.20,315.06 L1269.70,315.30 L1270.20,315.54 L1270.70,315.76 L1271.20,315.97 L1271.70,316.16 L1272.20,316.34 L1272.70,316.51 L1273.00,316.60 L1273.20,316.66 L1273.70,316.81 L1274.20,316.96 L1274.70,317.11 L1275.20,317.25 L1275.70,317.40 L1276.20,317.53 L1276.70,317.66 L1277.20,317.78 L1277.70,317.89 L1278.20,317.98 L1278.70,318.06 L1279.20,318.13 L1279.70,318.17 L1280.20,318.20 L1280.50,318.20" stroke="#808080" stroke-width="2.917" stroke-dasharray="2.920 4.817" stroke-dashoffset="1.451"/>
<path d="M1280.50,318.20 L1280.50,318.20 L1280.70,318.20 L1281.20,318.20 L1281.70,318.20 L1282.20,318.20 L1282.70,318.20 L1283.20,318.20 L1283.70,318.20 L1284.20,318.20 L1284.70,318.20 L1285.20,318.20 L1285.70,318.20 L1286.20,318.20 L1286.70,318.20 L1287.20,318.20 L1287.70,318.20 L1288.20,318.20 L1288.30,318.20 L1288.70,318.20 L1289.20,318.18 L1289.70,318.14 L1290.20,318.10 L1290.70,318.04 L1291.20,317.98 L1291.70,317.90 L1292.20,317.83 L1292.70,317.74 L1293.20,317.65 L1293.70,317.56 L1294.20,317.46 L1294.70,317.37 L1295.20,317.27 L1295.60,317.20 L1295.70,317.18 L1296.20,317.09 L1296.70,316.98 L1297.20,316.87 L1297.70,316.76 L1298.20,316.64 L1298.70,316.51 L1299.20,316.37 L1299.70,316.24 L1300.20,316.09 L1300.70,315.94 L1301.20,315.79 L1301.70,315.63 L1302.20,315.47 L1302.70,315.30 L1303.00,315.20 L1303.20,315.13 L1303.70,314.95 L1304.20,314.76 L1304.70,314.56 L1305.20,314.35 L1305.70,314.14 L1306.20,313.91 L1306.70,313.68 L1307.20,313.44 L1307.70,313.20 L1308.20,312.95 L1308.70,312.69 L1309.20,312.43 L1309.70,312.16 L1310.00,312.00 L1310.20,311.89 L1310.70,311.61 L1311.20,311.32 L1311.70,311.01 L1312.20,310.70 L1312.70,310.38 L1313.20,310.05 L1313.70,309.71 L1314.20,309.37 L1314.70,309.02 L1315.20,308.67 L1315.70,308.32 L1316.20,307.96 L1316.70,307.60 L1317.20,307.24 L1317.70,306.87 L1318.20,306.50 L1318.70,306.13 L1319.20,305.74 L1319.70,305.35 L1320.20,304.96 L1320.70,304.56 L1321.20,304.15 L1321.70,303.74 L1322.20,303.32 L1322.70,302.89 L1322.80,302.80 L1323.20,302.45 L1323.70,302.00 L1324.20,301.55 L1324.70,301.08 L1325.20,300.60 L1325.70,300.12 L1326.20,299.63 L1326.70,299.13 L1327.20,298.62 L1327.70,298.11 L1328.00,297.80 L1328.20,297.59 L1328.70,297.06 L1329.20,296.52 L1329.70,295.98 L1330.20,295.42 L1330.70,294.85 L1331.20,294.28 L1331.70,293.70 L1332.20,293.11 L1332.70,292.51 L1333.20,291.90 L1333.70,291.28 L1334.20,290.66 L1334.70,290.02 L1335.20,289.38 L1335.70,288.72 L1336.20,288.06 L1336.70,287.38 L1337.20,286.69 L1337.70,285.98 L1337.90,285.70 L1338.20,285.27 L1338.70,284.54 L1339.20,283.79 L1339.70,283.04 L1340.20,282.26 L1340.70,281.48 L1341.20,280.67 L1341.70,279.86 L1342.10,279.20 L1342.20,279.03 L1342.70,278.18 L1343.20,277.31 L1343.70,276.42 L1344.20,275.52 L1344.70,274.61 L1345.20,273.69 L1345.70,272.77 L1345.90,272.40 L1346.20,271.85 L1346.70,270.92 L1347.20,269.98 L1347.70,269.04 L1348.20,268.09 L1348.70,267.14 L1349.20,266.18 L1349.40,265.80 L1349.70,265.23 L1350.20,264.28 L1350.70,263.33 L1351.20,262.38 L1351.70,261.41 L1352.20,260.42 L1352.70,259.41 L1352.80,259.20 L1353.20,258.37 L1353.70,257.33 L1354.20,256.26 L1354.70,255.17 L1355.20,254.03 L1355.70,252.84 L1356.00,252.10" stroke="#808080" stroke-width="2.917" stroke-dasharray="2.896 4.778" stroke-dashoffset="1.439"/>
<path d="M1356.00,252.10 L1356.00,252.10 L1356.20,251.58 L1356.70,250.15 L1357.20,248.62 L1357.70,247.06 L1358.20,245.57 L1358.70,244.24 L1358.80,244.00 L1359.20,243.10 L1359.70,242.07 L1360.20,241.12 L1360.70,240.20 L1361.20,239.28 L1361.70,238.32 L1362.10,237.50 L1362.20,237.29 L1362.70,236.21 L1363.20,235.11 L1363.70,233.97 L1364.20,232.80 L1364.70,231.58 L1365.20,230.30 L1365.70,228.93 L1366.20,227.45 L1366.70,225.92 L1367.20,224.39 L1367.70,222.90 L1368.20,221.47 L1368.70,220.08 L1369.20,218.69 L1369.70,217.27 L1370.20,215.80 L1370.30,215.50 L1370.70,214.22 L1371.20,212.52 L1371.70,210.80 L1372.20,209.18 L1372.50,208.30 L1372.70,207.75 L1373.20,206.43 L1373.70,205.19 L1374.20,204.01 L1374.70,202.87 L1375.20,201.76 L1375.50,201.10 L1375.70,200.66 L1376.20,199.55 L1376.70,198.43 L1377.20,197.34 L1377.70,196.30 L1378.20,195.33 L1378.70,194.45 L1379.20,193.70 L1379.70,193.05 L1380.20,192.47 L1380.70,191.94 L1381.20,191.45 L1381.70,190.98 L1382.20,190.53 L1382.70,190.07 L1383.20,189.61 L1383.70,189.11 L1384.00,188.80" stroke="#808080" stroke-width="2.917" stroke-dasharray="2.929 4.832" stroke-dashoffset="1.456"/>
<path d="M1384.00,188.80 L1384.00,188.80 L1384.20,188.58 L1384.70,188.01 L1385.20,187.41 L1385.70,186.80 L1386.20,186.18 L1386.70,185.56 L1387.20,184.96 L1387.70,184.38 L1388.20,183.84 L1388.70,183.34 L1389.20,182.90 L1389.70,182.50 L1390.20,182.12 L1390.70,181.76 L1391.20,181.42 L1391.70,181.09 L1392.20,180.78 L1392.70,180.47 L1393.20,180.18 L1393.70,179.90 L1394.20,179.62 L1394.70,179.34 L1395.20,179.07 L1395.70,178.80 L1396.20,178.53 L1396.70,178.27 L1397.20,178.00 L1397.70,177.75 L1398.20,177.50 L1398.70,177.25 L1399.20,177.01 L1399.70,176.77 L1400.20,176.54 L1400.70,176.31 L1401.20,176.09 L1401.70,175.88 L1402.20,175.68 L1402.70,175.48 L1402.90,175.40 L1403.20,175.29 L1403.70,175.10 L1404.20,174.92 L1404.70,174.74 L1405.20,174.57 L1405.70,174.40 L1406.20,174.23 L1406.70,174.07 L1407.20,173.91 L1407.70,173.76 L1408.20,173.61 L1408.70,173.47 L1409.20,173.32 L1409.70,173.18 L1410.00,173.10 L1410.20,173.05 L1410.70,172.91 L1411.20,172.77 L1411.70,172.63 L1412.20,172.50 L1412.70,172.37 L1413.20,172.24 L1413.70,172.11 L1414.20,171.99 L1414.70,171.87 L1415.20,171.76 L1415.70,171.66 L1416.20,171.56 L1416.70,171.48 L1417.20,171.40 L1417.70,171.33 L1418.20,171.26 L1418.70,171.19 L1419.20,171.12 L1419.70,171.06 L1420.20,171.00 L1420.70,170.94 L1421.20,170.88 L1421.70,170.83 L1422.20,170.78 L1422.70,170.74 L1423.20,170.70 L1423.70,170.66 L1424.20,170.63 L1424.70,170.61 L1424.90,170.60 L1425.20,170.59" stroke="#808080" stroke-width="2.917" stroke-dasharray="2.922 4.821" stroke-dashoffset="1.452"/>
<path d="M1425.20,170.59 L1425.20,170.59 L1425.70,170.57 L1426.20,170.55 L1426.70,170.53 L1427.20,170.51 L1427.70,170.49 L1428.20,170.48 L1428.70,170.46 L1429.20,170.45 L1429.70,170.44 L1430.20,170.42 L1430.70,170.42 L1431.20,170.41 L1431.70,170.40 L1432.20,170.40 L1432.60,170.40 L1432.70,170.40 L1433.20,170.40 L1433.70,170.42 L1434.20,170.43 L1434.70,170.45 L1435.20,170.48 L1435.70,170.51 L1436.20,170.55 L1436.70,170.58 L1437.20,170.62 L1437.70,170.67 L1438.20,170.71 L1438.70,170.75 L1439.20,170.80 L1439.70,170.84 L1440.20,170.88 L1440.40,170.90 L1440.70,170.93 L1441.20,170.97 L1441.70,171.01 L1442.20,171.06 L1442.70,171.11 L1443.20,171.17 L1443.70,171.22 L1444.20,171.28 L1444.70,171.34 L1445.20,171.40 L1445.70,171.46 L1446.20,171.53 L1446.70,171.60 L1447.20,171.67 L1447.70,171.74 L1448.10,171.80 L1448.20,171.82 L1448.70,171.90 L1449.20,171.99 L1449.70,172.10 L1450.20,172.20 L1450.70,172.32 L1451.20,172.44 L1451.70,172.56 L1452.20,172.68 L1452.70,172.81 L1453.20,172.93 L1453.70,173.05 L1454.20,173.17 L1454.70,173.28 L1455.20,173.38 L1455.70,173.48 L1455.80,173.50 L1456.20,173.57 L1456.70,173.66 L1457.20,173.74 L1457.70,173.82 L1458.20,173.90 L1458.70,173.97 L1459.20,174.04 L1459.70,174.12 L1460.20,174.19 L1460.70,174.26 L1461.20,174.33 L1461.70,174.41 L1462.20,174.49 L1462.70,174.57 L1463.20,174.65 L1463.50,174.70 L1463.70,174.73 L1464.20,174.82 L1464.70,174.92 L1465.20,175.01 L1465.70,175.11 L1466.20,175.20 L1466.70,175.30 L1467.20,175.40 L1467.70,175.50 L1468.20,175.61 L1468.70,175.71 L1469.20,175.81 L1469.70,175.91 L1470.20,176.01 L1470.70,176.10 L1471.20,176.20" stroke="#808080" stroke-width="2.917" stroke-dasharray="2.925 4.826" stroke-dashoffset="1.454"/>
<path d="M1471.20,176.20 L1471.20,176.20 L1471.70,176.29 L1472.20,176.39 L1472.70,176.48 L1473.20,176.57 L1473.70,176.66 L1474.20,176.75 L1474.70,176.84 L1475.20,176.93 L1475.70,177.02 L1476.20,177.11 L1476.70,177.20 L1477.20,177.29 L1477.70,177.38 L1478.20,177.47 L1478.70,177.56 L1479.20,177.66 L1479.70,177.75 L1480.20,177.85 L1480.70,177.94 L1481.20,178.04 L1481.70,178.14 L1482.00,178.20 L1482.20,178.24 L1482.70,178.34 L1483.20,178.45 L1483.70,178.56 L1484.20,178.66 L1484.70,178.77 L1485.20,178.88 L1485.70,178.99 L1486.20,179.11 L1486.70,179.22 L1487.20,179.33 L1487.70,179.45 L1488.20,179.56 L1488.70,179.68 L1489.20,179.79 L1489.70,179.91 L1490.20,180.02 L1490.70,180.14 L1491.20,180.25 L1491.70,180.37 L1492.20,180.48 L1492.30,180.50 L1492.70,180.59 L1493.20,180.70 L1493.70,180.82 L1494.20,180.93 L1494.70,181.05 L1495.20,181.16 L1495.70,181.28 L1496.20,181.40 L1496.70,181.51 L1497.20,181.63 L1497.70,181.74 L1498.20,181.86 L1498.70,181.97 L1499.20,182.08 L1499.70,182.19 L1500.20,182.30 L1500.70,182.41 L1501.20,182.52 L1501.70,182.62 L1502.20,182.72 L1502.60,182.80 L1502.70,182.82 L1503.20,182.92 L1503.70,183.01 L1504.20,183.11 L1504.70,183.20 L1505.20,183.29 L1505.70,183.38 L1506.20,183.47 L1506.70,183.56 L1507.20,183.65 L1507.70,183.74 L1508.20,183.83 L1508.70,183.91 L1509.20,184.00 L1509.70,184.08 L1510.20,184.16 L1510.70,184.25 L1511.20,184.33 L1511.70,184.41 L1512.20,184.49 L1512.70,184.57 L1512.90,184.60 L1513.20,184.65 L1513.70,184.73 L1514.20,184.80 L1514.70,184.88 L1515.20,184.96 L1515.70,185.04 L1516.20,185.11 L1516.70,185.19 L1517.20,185.26 L1517.70,185.34 L1518.20,185.41 L1518.70,185.48 L1519.20,185.55 L1519.70,185.63 L1520.20,185.70 L1520.70,185.77 L1521.20,185.83 L1521.70,185.90 L1522.20,185.97 L1522.70,186.03 L1523.20,186.10 L1523.70,186.16 L1524.20,186.23 L1524.70,186.29 L1525.20,186.36 L1525.70,186.42 L1526.20,186.48 L1526.70,186.55 L1527.20,186.61 L1527.70,186.67 L1528.20,186.73 L1528.70,186.79 L1529.20,186.85 L1529.70,186.90 L1530.20,186.96 L1530.70,187.01 L1531.20,187.07 L1531.70,187.12 L1532.20,187.17 L1532.70,187.22 L1533.20,187.27 L1533.50,187.30 L1533.70,187.32 L1534.20,187.36 L1534.70,187.41 L1535.20,187.45 L1535.70,187.50 L1536.20,187.54 L1536.70,187.58 L1537.20,187.62 L1537.70,187.66 L1538.20,187.70 L1538.70,187.74 L1539.20,187.78 L1539.70,187.82 L1540.20,187.86 L1540.70,187.89 L1541.20,187.93 L1541.70,187.96 L1542.20,188.00 L1542.70,188.03 L1543.20,188.07 L1543.70,188.10 L1544.20,188.13 L1544.70,188.17 L1545.20,188.21 L1545.70,188.25 L1546.20,188.28 L1546.70,188.32 L1547.20,188.36 L1547.70,188.40 L1548.20,188.44 L1548.70,188.47 L1549.20,188.51 L1549.70,188.54 L1550.20,188.57 L1550.70,188.60 L1551.20,188.62 L1551.70,188.65 L1552.20,188.67 L1552.70,188.68 L1553.20,188.69 L1553.70,188.70 L1554.00,188.70 L1554.20,188.70 L1554.70,188.70 L1555.20,188.70 L1555.70,188.70 L1556.20,188.70 L1556.70,188.71 L1557.20,188.71 L1557.70,188.71 L1558.20,188.71 L1558.70,188.71 L1559.20,188.71 L1559.70,188.71 L1560.20,188.71 L1560.70,188.71 L1561.20,188.72 L1561.70,188.72 L1562.20,188.72 L1562.30,188.72" stroke="#808080" stroke-width="2.917" stroke-dasharray="2.899 4.783" stroke-dashoffset="1.441"/>
<path d="M1562.30,188.72 L1562.70,188.72 L1563.20,188.72 L1563.70,188.72 L1564.20,188.72 L1564.70,188.72 L1565.20,188.72 L1565.70,188.72 L1566.20,188.73 L1566.70,188.73 L1567.20,188.73 L1567.70,188.73 L1568.20,188.73 L1568.70,188.73 L1569.20,188.73 L1569.70,188.73 L1570.20,188.73 L1570.70,188.73 L1571.20,188.73 L1571.70,188.74 L1572.20,188.74 L1572.70,188.74 L1573.20,188.74 L1573.70,188.74 L1574.20,188.74 L1574.70,188.74 L1575.20,188.74 L1575.70,188.74 L1576.20,188.74 L1576.70,188.74 L1577.20,188.74 L1577.70,188.75 L1578.20,188.75 L1578.70,188.75 L1579.20,188.75 L1579.70,188.75 L1580.20,188.75 L1580.70,188.75 L1581.20,188.75 L1581.70,188.75 L1582.20,188.75 L1582.70,188.75 L1583.20,188.75 L1583.70,188.75 L1584.20,188.75 L1584.70,188.76 L1585.20,188.76 L1585.70,188.76 L1586.20,188.76 L1586.70,188.76 L1587.20,188.76 L1587.70,188.76 L1588.20,188.76 L1588.70,188.76 L1589.20,188.76 L1589.70,188.76 L1590.20,188.76 L1590.70,188.76 L1591.20,188.76 L1591.70,188.76 L1592.20,188.77 L1592.70,188.77 L1593.20,188.77 L1593.70,188.77 L1594.20,188.77 L1594.70,188.77 L1595.20,188.77 L1595.70,188.77 L1596.20,188.77 L1596.70,188.77 L1597.20,188.77 L1597.70,188.77 L1598.20,188.77 L1598.70,188.77 L1599.20,188.77 L1599.70,188.77 L1600.20,188.77 L1600.70,188.77 L1601.20,188.77 L1601.70,188.77 L1602.20,188.78 L1602.70,188.78 L1603.20,188.78 L1603.70,188.78 L1604.20,188.78 L1604.70,188.78 L1605.20,188.78 L1605.70,188.78 L1606.20,188.78 L1606.70,188.78 L1607.20,188.78 L1607.70,188.78 L1608.20,188.78 L1608.70,188.78 L1609.20,188.78 L1609.70,188.78 L1610.20,188.78 L1610.70,188.78 L1611.20,188.78 L1611.70,188.78 L1612.20,188.78 L1612.70,188.78 L1613.20,188.78 L1613.70,188.78 L1614.20,188.78 L1614.70,188.79 L1615.20,188.79 L1615.70,188.79 L1616.20,188.79 L1616.70,188.79 L1617.20,188.79 L1617.70,188.79 L1618.20,188.79 L1618.70,188.79 L1619.20,188.79 L1619.70,188.79 L1620.20,188.79 L1620.70,188.79 L1621.20,188.79 L1621.70,188.79 L1622.20,188.79 L1622.70,188.79 L1623.20,188.79 L1623.70,188.79 L1624.20,188.79 L1624.70,188.79 L1625.20,188.79 L1625.70,188.79 L1626.20,188.79 L1626.70,188.79 L1627.20,188.79 L1627.70,188.79 L1628.20,188.79 L1628.70,188.79 L1629.20,188.79 L1629.70,188.79 L1630.20,188.79 L1630.70,188.79 L1631.20,188.79 L1631.70,188.79 L1632.20,188.79 L1632.70,188.79 L1633.20,188.79 L1633.70,188.79 L1634.20,188.79 L1634.70,188.80 L1635.20,188.80 L1635.70,188.80 L1636.20,188.80 L1636.70,188.80 L1637.20,188.80 L1637.70,188.80 L1638.20,188.80 L1638.70,188.80 L1639.20,188.80 L1639.70,188.80 L1640.20,188.80 L1640.70,188.80 L1641.20,188.80 L1641.70,188.80 L1642.20,188.80 L1642.70,188.80 L1643.20,188.80 L1643.70,188.80 L1644.20,188.80 L1644.70,188.80 L1645.20,188.80 L1645.70,188.80 L1646.20,188.80 L1646.70,188.80 L1647.20,188.80 L1647.70,188.80 L1648.20,188.80 L1648.70,188.80 L1649.20,188.80 L1649.70,188.80 L1650.20,188.80 L1650.70,188.80 L1651.20,188.80 L1651.70,188.80 L1652.20,188.80 L1652.70,188.80 L1653.20,188.80 L1653.70,188.80 L1654.20,188.80 L1654.70,188.80 L1655.20,188.80 L1655.70,188.80 L1656.20,188.80 L1656.70,188.80 L1657.20,188.80 L1657.70,188.80 L1658.20,188.80 L1658.70,188.80 L1659.20,188.80 L1659.70,188.80 L1660.20,188.80 L1660.70,188.80 L1661.20,188.80 L1661.70,188.80 L1662.20,188.80 L1662.70,188.80 L1663.20,188.80 L1663.70,188.80 L1664.20,188.80 L1664.70,188.80 L1665.20,188.80 L1665.70,188.80 L1666.20,188.80 L1666.70,188.80 L1667.20,188.80 L1667.70,188.80 L1668.20,188.80 L1668.70,188.80 L1669.20,188.80 L1669.70,188.80 L1670.20,188.80 L1670.70,188.80 L1671.10,188.80" stroke="#808080" stroke-width="2.917" stroke-dasharray="2.917 4.813" stroke-dashoffset="1.450"/>
</g>
<path d="M939.20,521.4v5.8M1043.77,521.4v5.8M1148.34,521.4v5.8M1252.91,521.4v5.8M1357.49,521.4v5.8M1462.06,521.4v5.8M1566.63,521.4v5.8M1671.20,521.4v5.8M1671.2,93.81h5.6M1671.2,188.83h5.6M1671.2,283.85h5.6M1671.2,378.87h5.6M1671.2,473.89h5.6" stroke="#000" stroke-width="1.33" fill="none"/>
<rect x="939.2" y="46.3" width="732.00" height="475.10" fill="none" stroke="#000" stroke-width="1.5"/>
<text class="t" transform="translate(939.20,549.90) scale(0.957,1)" text-anchor="middle" stroke="#000" stroke-width="0.4">−300</text>
<text class="t" transform="translate(1043.77,549.90) scale(0.957,1)" text-anchor="middle" stroke="#000" stroke-width="0.4">−200</text>
<text class="t" transform="translate(1148.34,549.90) scale(0.957,1)" text-anchor="middle" stroke="#000" stroke-width="0.4">−100</text>
<text class="t" transform="translate(1252.91,549.90) scale(0.957,1)" text-anchor="middle" stroke="#000" stroke-width="0.4">0</text>
<text class="t" transform="translate(1357.49,549.90) scale(0.957,1)" text-anchor="middle" stroke="#000" stroke-width="0.4">100</text>
<text class="t" transform="translate(1462.06,549.90) scale(0.957,1)" text-anchor="middle" stroke="#000" stroke-width="0.4">200</text>
<text class="t" transform="translate(1566.63,549.90) scale(0.957,1)" text-anchor="middle" stroke="#000" stroke-width="0.4">300</text>
<text class="t" transform="translate(1671.20,549.90) scale(0.957,1)" text-anchor="middle" stroke="#000" stroke-width="0.4">400</text>
<text class="t" transform="translate(1681.20,103.61) scale(0.957,1)" text-anchor="start" stroke="#000" stroke-width="0.4">0.02</text>
<text class="t" transform="translate(1681.20,198.63) scale(0.957,1)" text-anchor="start" stroke="#000" stroke-width="0.4">0.00</text>
<text class="t" transform="translate(1681.20,293.65) scale(0.957,1)" text-anchor="start" stroke="#000" stroke-width="0.4">−0.02</text>
<text class="t" transform="translate(1681.20,388.67) scale(0.957,1)" text-anchor="start" stroke="#000" stroke-width="0.4">−0.04</text>
<text class="t" transform="translate(1681.20,483.69) scale(0.957,1)" text-anchor="start" stroke="#000" stroke-width="0.4">−0.06</text>
<text class="t" transform="translate(1305.60,577.80) scale(0.957,1)" text-anchor="middle" stroke="#000" stroke-width="0.4">T / fs</text>
<text class="t" transform="translate(23.50,390.30) rotate(-90) scale(0.965,1)" text-anchor="start" stroke="#000" stroke-width="0.4">Spin-current / fs<tspan class="s" dy="-9.3">−1</tspan></text>
<text class="b" transform="translate(115.1,33.0) rotate(0.05) scale(1.0,1)">A</text>
<text class="b" transform="translate(938.0,33.0) rotate(0.05) scale(0.94,1)">B</text>
<text class="m" font-size="36.6" font-style="italic" x="365.9" y="29.4" textLength="23.4" lengthAdjust="spacingAndGlyphs">V</text><text class="m" font-size="25.4" x="386.3" y="33.6" textLength="40.2" lengthAdjust="spacingAndGlyphs">DC</text><text class="m" font-size="36.6" transform="translate(437.40,29.6) scale(1.4,0.74)" x="0" y="0">=</text><text class="m" font-size="36.6" x="475.3" y="29.4" textLength="43.8" lengthAdjust="spacingAndGlyphs">0.5</text><text class="m" font-size="36.6" x="531.1" y="29.4" textLength="42.2" lengthAdjust="spacingAndGlyphs">eV</text>
<text class="m" font-size="36.6" font-style="italic" x="1189.4" y="29.4" textLength="23.4" lengthAdjust="spacingAndGlyphs">V</text><text class="m" font-size="25.4" x="1209.8" y="33.6" textLength="40.2" lengthAdjust="spacingAndGlyphs">DC</text><text class="m" font-size="36.6" transform="translate(1260.90,29.6) scale(1.4,0.74)" x="0" y="0">=</text><text class="m" font-size="36.6" x="1298.8" y="29.4" textLength="43.8" lengthAdjust="spacingAndGlyphs">0.0</text><text class="m" font-size="36.6" x="1354.6" y="29.4" textLength="42.2" lengthAdjust="spacingAndGlyphs">eV</text>
<rect x="702.4" y="397.2" width="134.2" height="112.2" rx="4" ry="4" fill="#fff" fill-opacity="0.84" stroke="#ccc" stroke-opacity="0.75" stroke-width="1.6"/>
<path d="M711.55,415.9H758.3" stroke="#1f77b4" stroke-width="2.917" stroke-linecap="square" fill="none"/>
<path d="M711.55,451.1H758.3" stroke="#d51c1e" stroke-width="2.917" stroke-dasharray="18.67 4.67 2.917 4.67" fill="none"/>
<path d="M711.55,486.5H758.3" stroke="#808080" stroke-width="2.917" stroke-dasharray="2.917 4.813" fill="none"/>
<text class="ti" transform="translate(777.10,424.00) scale(0.97,1)" text-anchor="start" stroke="#000" stroke-width="0.3" style="font-size:23.4px">J</text>
<text class="si" transform="translate(784.00,427.90) scale(0.97,1)" text-anchor="start" stroke="#000" stroke-width="0.3" style="font-size:16.4px">s</text>
<text class="s" transform="translate(792.70,427.90) scale(1,1)" text-anchor="start" stroke="#000" stroke-width="0.3" style="font-size:16.4px">,</text>
<text class="s" transform="translate(800.60,427.90) scale(0.985,1)" text-anchor="start" stroke="#000" stroke-width="0.3" style="font-size:16.4px">DE</text>
<text class="ti" transform="translate(777.10,459.30) scale(0.97,1)" text-anchor="start" stroke="#000" stroke-width="0.3" style="font-size:23.4px">J</text>
<text class="si" transform="translate(784.00,463.20) scale(0.97,1)" text-anchor="start" stroke="#000" stroke-width="0.3" style="font-size:16.4px">s</text>
<text class="s" transform="translate(792.70,463.20) scale(1,1)" text-anchor="start" stroke="#000" stroke-width="0.3" style="font-size:16.4px">,</text>
<text class="s" transform="translate(800.60,463.20) scale(0.985,1)" text-anchor="start" stroke="#000" stroke-width="0.3" style="font-size:16.4px">AM</text>
<text class="ti" transform="translate(777.10,494.60) scale(0.97,1)" text-anchor="start" stroke="#000" stroke-width="0.3" style="font-size:23.4px">J</text>
<text class="si" transform="translate(784.00,498.50) scale(0.97,1)" text-anchor="start" stroke="#000" stroke-width="0.3" style="font-size:16.4px">s</text>
<text class="s" transform="translate(792.70,498.50) scale(1,1)" text-anchor="start" stroke="#000" stroke-width="0.3" style="font-size:16.4px">,</text>
<text class="s" transform="translate(800.60,498.50) scale(0.985,1)" text-anchor="start" stroke="#000" stroke-width="0.3" style="font-size:16.4px">ad</text>
</svg></body></html>
